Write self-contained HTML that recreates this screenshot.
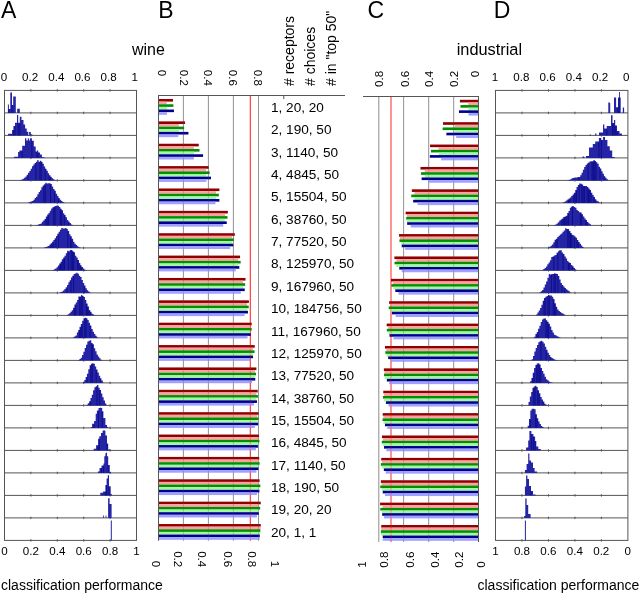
<!DOCTYPE html>
<html><head><meta charset="utf-8"><style>
html,body{margin:0;padding:0;background:#fff;}
svg{display:block;will-change:transform;}
text{font-family:"Liberation Sans",sans-serif;}
</style></head><body>
<svg width="639" height="593" viewBox="0 0 639 593">
<rect width="639" height="593" fill="#fff"/>
<text x="0.9" y="18" font-size="23" font-family="Liberation Sans, sans-serif">A</text>
<text x="158.3" y="18" font-size="23" font-family="Liberation Sans, sans-serif">B</text>
<text x="367.4" y="18" font-size="23" font-family="Liberation Sans, sans-serif">C</text>
<text x="493.8" y="18" font-size="23" font-family="Liberation Sans, sans-serif">D</text>
<text x="132" y="55" font-size="16" font-family="Liberation Sans, sans-serif">wine</text>
<text x="456.7" y="55.2" font-size="16.35" font-family="Liberation Sans, sans-serif">industrial</text>
<text x="1" y="589.8" font-size="14" font-family="Liberation Sans, sans-serif">classification performance</text>
<text x="477.5" y="589.8" font-size="14" font-family="Liberation Sans, sans-serif">classification performance</text>
<rect x="4.5" y="90.4" width="132.0" height="450.0" fill="none" stroke="#555555" stroke-width="1"/>
<line x1="4.5" y1="112.90" x2="136.5" y2="112.90" stroke="#555555" stroke-width="1"/>
<line x1="4.5" y1="135.40" x2="136.5" y2="135.40" stroke="#555555" stroke-width="1"/>
<line x1="4.5" y1="157.90" x2="136.5" y2="157.90" stroke="#555555" stroke-width="1"/>
<line x1="4.5" y1="180.40" x2="136.5" y2="180.40" stroke="#555555" stroke-width="1"/>
<line x1="4.5" y1="202.90" x2="136.5" y2="202.90" stroke="#555555" stroke-width="1"/>
<line x1="4.5" y1="225.40" x2="136.5" y2="225.40" stroke="#555555" stroke-width="1"/>
<line x1="4.5" y1="247.90" x2="136.5" y2="247.90" stroke="#555555" stroke-width="1"/>
<line x1="4.5" y1="270.40" x2="136.5" y2="270.40" stroke="#555555" stroke-width="1"/>
<line x1="4.5" y1="292.90" x2="136.5" y2="292.90" stroke="#555555" stroke-width="1"/>
<line x1="4.5" y1="315.40" x2="136.5" y2="315.40" stroke="#555555" stroke-width="1"/>
<line x1="4.5" y1="337.90" x2="136.5" y2="337.90" stroke="#555555" stroke-width="1"/>
<line x1="4.5" y1="360.40" x2="136.5" y2="360.40" stroke="#555555" stroke-width="1"/>
<line x1="4.5" y1="382.90" x2="136.5" y2="382.90" stroke="#555555" stroke-width="1"/>
<line x1="4.5" y1="405.40" x2="136.5" y2="405.40" stroke="#555555" stroke-width="1"/>
<line x1="4.5" y1="427.90" x2="136.5" y2="427.90" stroke="#555555" stroke-width="1"/>
<line x1="4.5" y1="450.40" x2="136.5" y2="450.40" stroke="#555555" stroke-width="1"/>
<line x1="4.5" y1="472.90" x2="136.5" y2="472.90" stroke="#555555" stroke-width="1"/>
<line x1="4.5" y1="495.40" x2="136.5" y2="495.40" stroke="#555555" stroke-width="1"/>
<line x1="4.5" y1="517.90" x2="136.5" y2="517.90" stroke="#555555" stroke-width="1"/>
<line x1="30.90" y1="89.20" x2="30.90" y2="91.60" stroke="#555555" stroke-width="1"/>
<line x1="57.30" y1="89.20" x2="57.30" y2="91.60" stroke="#555555" stroke-width="1"/>
<line x1="83.70" y1="89.20" x2="83.70" y2="91.60" stroke="#555555" stroke-width="1"/>
<line x1="110.10" y1="89.20" x2="110.10" y2="91.60" stroke="#555555" stroke-width="1"/>
<line x1="30.90" y1="111.70" x2="30.90" y2="114.10" stroke="#555555" stroke-width="1"/>
<line x1="57.30" y1="111.70" x2="57.30" y2="114.10" stroke="#555555" stroke-width="1"/>
<line x1="83.70" y1="111.70" x2="83.70" y2="114.10" stroke="#555555" stroke-width="1"/>
<line x1="110.10" y1="111.70" x2="110.10" y2="114.10" stroke="#555555" stroke-width="1"/>
<line x1="30.90" y1="134.20" x2="30.90" y2="136.60" stroke="#555555" stroke-width="1"/>
<line x1="57.30" y1="134.20" x2="57.30" y2="136.60" stroke="#555555" stroke-width="1"/>
<line x1="83.70" y1="134.20" x2="83.70" y2="136.60" stroke="#555555" stroke-width="1"/>
<line x1="110.10" y1="134.20" x2="110.10" y2="136.60" stroke="#555555" stroke-width="1"/>
<line x1="30.90" y1="156.70" x2="30.90" y2="159.10" stroke="#555555" stroke-width="1"/>
<line x1="57.30" y1="156.70" x2="57.30" y2="159.10" stroke="#555555" stroke-width="1"/>
<line x1="83.70" y1="156.70" x2="83.70" y2="159.10" stroke="#555555" stroke-width="1"/>
<line x1="110.10" y1="156.70" x2="110.10" y2="159.10" stroke="#555555" stroke-width="1"/>
<line x1="30.90" y1="179.20" x2="30.90" y2="181.60" stroke="#555555" stroke-width="1"/>
<line x1="57.30" y1="179.20" x2="57.30" y2="181.60" stroke="#555555" stroke-width="1"/>
<line x1="83.70" y1="179.20" x2="83.70" y2="181.60" stroke="#555555" stroke-width="1"/>
<line x1="110.10" y1="179.20" x2="110.10" y2="181.60" stroke="#555555" stroke-width="1"/>
<line x1="30.90" y1="201.70" x2="30.90" y2="204.10" stroke="#555555" stroke-width="1"/>
<line x1="57.30" y1="201.70" x2="57.30" y2="204.10" stroke="#555555" stroke-width="1"/>
<line x1="83.70" y1="201.70" x2="83.70" y2="204.10" stroke="#555555" stroke-width="1"/>
<line x1="110.10" y1="201.70" x2="110.10" y2="204.10" stroke="#555555" stroke-width="1"/>
<line x1="30.90" y1="224.20" x2="30.90" y2="226.60" stroke="#555555" stroke-width="1"/>
<line x1="57.30" y1="224.20" x2="57.30" y2="226.60" stroke="#555555" stroke-width="1"/>
<line x1="83.70" y1="224.20" x2="83.70" y2="226.60" stroke="#555555" stroke-width="1"/>
<line x1="110.10" y1="224.20" x2="110.10" y2="226.60" stroke="#555555" stroke-width="1"/>
<line x1="30.90" y1="246.70" x2="30.90" y2="249.10" stroke="#555555" stroke-width="1"/>
<line x1="57.30" y1="246.70" x2="57.30" y2="249.10" stroke="#555555" stroke-width="1"/>
<line x1="83.70" y1="246.70" x2="83.70" y2="249.10" stroke="#555555" stroke-width="1"/>
<line x1="110.10" y1="246.70" x2="110.10" y2="249.10" stroke="#555555" stroke-width="1"/>
<line x1="30.90" y1="269.20" x2="30.90" y2="271.60" stroke="#555555" stroke-width="1"/>
<line x1="57.30" y1="269.20" x2="57.30" y2="271.60" stroke="#555555" stroke-width="1"/>
<line x1="83.70" y1="269.20" x2="83.70" y2="271.60" stroke="#555555" stroke-width="1"/>
<line x1="110.10" y1="269.20" x2="110.10" y2="271.60" stroke="#555555" stroke-width="1"/>
<line x1="30.90" y1="291.70" x2="30.90" y2="294.10" stroke="#555555" stroke-width="1"/>
<line x1="57.30" y1="291.70" x2="57.30" y2="294.10" stroke="#555555" stroke-width="1"/>
<line x1="83.70" y1="291.70" x2="83.70" y2="294.10" stroke="#555555" stroke-width="1"/>
<line x1="110.10" y1="291.70" x2="110.10" y2="294.10" stroke="#555555" stroke-width="1"/>
<line x1="30.90" y1="314.20" x2="30.90" y2="316.60" stroke="#555555" stroke-width="1"/>
<line x1="57.30" y1="314.20" x2="57.30" y2="316.60" stroke="#555555" stroke-width="1"/>
<line x1="83.70" y1="314.20" x2="83.70" y2="316.60" stroke="#555555" stroke-width="1"/>
<line x1="110.10" y1="314.20" x2="110.10" y2="316.60" stroke="#555555" stroke-width="1"/>
<line x1="30.90" y1="336.70" x2="30.90" y2="339.10" stroke="#555555" stroke-width="1"/>
<line x1="57.30" y1="336.70" x2="57.30" y2="339.10" stroke="#555555" stroke-width="1"/>
<line x1="83.70" y1="336.70" x2="83.70" y2="339.10" stroke="#555555" stroke-width="1"/>
<line x1="110.10" y1="336.70" x2="110.10" y2="339.10" stroke="#555555" stroke-width="1"/>
<line x1="30.90" y1="359.20" x2="30.90" y2="361.60" stroke="#555555" stroke-width="1"/>
<line x1="57.30" y1="359.20" x2="57.30" y2="361.60" stroke="#555555" stroke-width="1"/>
<line x1="83.70" y1="359.20" x2="83.70" y2="361.60" stroke="#555555" stroke-width="1"/>
<line x1="110.10" y1="359.20" x2="110.10" y2="361.60" stroke="#555555" stroke-width="1"/>
<line x1="30.90" y1="381.70" x2="30.90" y2="384.10" stroke="#555555" stroke-width="1"/>
<line x1="57.30" y1="381.70" x2="57.30" y2="384.10" stroke="#555555" stroke-width="1"/>
<line x1="83.70" y1="381.70" x2="83.70" y2="384.10" stroke="#555555" stroke-width="1"/>
<line x1="110.10" y1="381.70" x2="110.10" y2="384.10" stroke="#555555" stroke-width="1"/>
<line x1="30.90" y1="404.20" x2="30.90" y2="406.60" stroke="#555555" stroke-width="1"/>
<line x1="57.30" y1="404.20" x2="57.30" y2="406.60" stroke="#555555" stroke-width="1"/>
<line x1="83.70" y1="404.20" x2="83.70" y2="406.60" stroke="#555555" stroke-width="1"/>
<line x1="110.10" y1="404.20" x2="110.10" y2="406.60" stroke="#555555" stroke-width="1"/>
<line x1="30.90" y1="426.70" x2="30.90" y2="429.10" stroke="#555555" stroke-width="1"/>
<line x1="57.30" y1="426.70" x2="57.30" y2="429.10" stroke="#555555" stroke-width="1"/>
<line x1="83.70" y1="426.70" x2="83.70" y2="429.10" stroke="#555555" stroke-width="1"/>
<line x1="110.10" y1="426.70" x2="110.10" y2="429.10" stroke="#555555" stroke-width="1"/>
<line x1="30.90" y1="449.20" x2="30.90" y2="451.60" stroke="#555555" stroke-width="1"/>
<line x1="57.30" y1="449.20" x2="57.30" y2="451.60" stroke="#555555" stroke-width="1"/>
<line x1="83.70" y1="449.20" x2="83.70" y2="451.60" stroke="#555555" stroke-width="1"/>
<line x1="110.10" y1="449.20" x2="110.10" y2="451.60" stroke="#555555" stroke-width="1"/>
<line x1="30.90" y1="471.70" x2="30.90" y2="474.10" stroke="#555555" stroke-width="1"/>
<line x1="57.30" y1="471.70" x2="57.30" y2="474.10" stroke="#555555" stroke-width="1"/>
<line x1="83.70" y1="471.70" x2="83.70" y2="474.10" stroke="#555555" stroke-width="1"/>
<line x1="110.10" y1="471.70" x2="110.10" y2="474.10" stroke="#555555" stroke-width="1"/>
<line x1="30.90" y1="494.20" x2="30.90" y2="496.60" stroke="#555555" stroke-width="1"/>
<line x1="57.30" y1="494.20" x2="57.30" y2="496.60" stroke="#555555" stroke-width="1"/>
<line x1="83.70" y1="494.20" x2="83.70" y2="496.60" stroke="#555555" stroke-width="1"/>
<line x1="110.10" y1="494.20" x2="110.10" y2="496.60" stroke="#555555" stroke-width="1"/>
<line x1="30.90" y1="516.70" x2="30.90" y2="519.10" stroke="#555555" stroke-width="1"/>
<line x1="57.30" y1="516.70" x2="57.30" y2="519.10" stroke="#555555" stroke-width="1"/>
<line x1="83.70" y1="516.70" x2="83.70" y2="519.10" stroke="#555555" stroke-width="1"/>
<line x1="110.10" y1="516.70" x2="110.10" y2="519.10" stroke="#555555" stroke-width="1"/>
<line x1="30.90" y1="539.20" x2="30.90" y2="541.60" stroke="#555555" stroke-width="1"/>
<line x1="57.30" y1="539.20" x2="57.30" y2="541.60" stroke="#555555" stroke-width="1"/>
<line x1="83.70" y1="539.20" x2="83.70" y2="541.60" stroke="#555555" stroke-width="1"/>
<line x1="110.10" y1="539.20" x2="110.10" y2="541.60" stroke="#555555" stroke-width="1"/>
<text x="4.00" y="80.8" font-size="11.6" text-anchor="middle" font-family="Liberation Sans, sans-serif">0</text>
<text x="4.50" y="554.7" font-size="11.6" text-anchor="middle" font-family="Liberation Sans, sans-serif">0</text>
<text x="30.16" y="80.8" font-size="11.6" text-anchor="middle" font-family="Liberation Sans, sans-serif">0.2</text>
<text x="30.90" y="554.7" font-size="11.6" text-anchor="middle" font-family="Liberation Sans, sans-serif">0.2</text>
<text x="56.32" y="80.8" font-size="11.6" text-anchor="middle" font-family="Liberation Sans, sans-serif">0.4</text>
<text x="57.30" y="554.7" font-size="11.6" text-anchor="middle" font-family="Liberation Sans, sans-serif">0.4</text>
<text x="82.48" y="80.8" font-size="11.6" text-anchor="middle" font-family="Liberation Sans, sans-serif">0.6</text>
<text x="83.70" y="554.7" font-size="11.6" text-anchor="middle" font-family="Liberation Sans, sans-serif">0.6</text>
<text x="108.64" y="80.8" font-size="11.6" text-anchor="middle" font-family="Liberation Sans, sans-serif">0.8</text>
<text x="110.10" y="554.7" font-size="11.6" text-anchor="middle" font-family="Liberation Sans, sans-serif">0.8</text>
<text x="134.80" y="80.8" font-size="11.6" text-anchor="middle" font-family="Liberation Sans, sans-serif">1</text>
<text x="136.50" y="554.7" font-size="11.6" text-anchor="middle" font-family="Liberation Sans, sans-serif">1</text>
<rect x="495.5" y="90.4" width="132.39999999999998" height="450.0" fill="none" stroke="#555555" stroke-width="1"/>
<line x1="495.5" y1="112.90" x2="627.9" y2="112.90" stroke="#555555" stroke-width="1"/>
<line x1="495.5" y1="135.40" x2="627.9" y2="135.40" stroke="#555555" stroke-width="1"/>
<line x1="495.5" y1="157.90" x2="627.9" y2="157.90" stroke="#555555" stroke-width="1"/>
<line x1="495.5" y1="180.40" x2="627.9" y2="180.40" stroke="#555555" stroke-width="1"/>
<line x1="495.5" y1="202.90" x2="627.9" y2="202.90" stroke="#555555" stroke-width="1"/>
<line x1="495.5" y1="225.40" x2="627.9" y2="225.40" stroke="#555555" stroke-width="1"/>
<line x1="495.5" y1="247.90" x2="627.9" y2="247.90" stroke="#555555" stroke-width="1"/>
<line x1="495.5" y1="270.40" x2="627.9" y2="270.40" stroke="#555555" stroke-width="1"/>
<line x1="495.5" y1="292.90" x2="627.9" y2="292.90" stroke="#555555" stroke-width="1"/>
<line x1="495.5" y1="315.40" x2="627.9" y2="315.40" stroke="#555555" stroke-width="1"/>
<line x1="495.5" y1="337.90" x2="627.9" y2="337.90" stroke="#555555" stroke-width="1"/>
<line x1="495.5" y1="360.40" x2="627.9" y2="360.40" stroke="#555555" stroke-width="1"/>
<line x1="495.5" y1="382.90" x2="627.9" y2="382.90" stroke="#555555" stroke-width="1"/>
<line x1="495.5" y1="405.40" x2="627.9" y2="405.40" stroke="#555555" stroke-width="1"/>
<line x1="495.5" y1="427.90" x2="627.9" y2="427.90" stroke="#555555" stroke-width="1"/>
<line x1="495.5" y1="450.40" x2="627.9" y2="450.40" stroke="#555555" stroke-width="1"/>
<line x1="495.5" y1="472.90" x2="627.9" y2="472.90" stroke="#555555" stroke-width="1"/>
<line x1="495.5" y1="495.40" x2="627.9" y2="495.40" stroke="#555555" stroke-width="1"/>
<line x1="495.5" y1="517.90" x2="627.9" y2="517.90" stroke="#555555" stroke-width="1"/>
<line x1="601.42" y1="89.20" x2="601.42" y2="91.60" stroke="#555555" stroke-width="1"/>
<line x1="574.94" y1="89.20" x2="574.94" y2="91.60" stroke="#555555" stroke-width="1"/>
<line x1="548.46" y1="89.20" x2="548.46" y2="91.60" stroke="#555555" stroke-width="1"/>
<line x1="521.98" y1="89.20" x2="521.98" y2="91.60" stroke="#555555" stroke-width="1"/>
<line x1="601.42" y1="111.70" x2="601.42" y2="114.10" stroke="#555555" stroke-width="1"/>
<line x1="574.94" y1="111.70" x2="574.94" y2="114.10" stroke="#555555" stroke-width="1"/>
<line x1="548.46" y1="111.70" x2="548.46" y2="114.10" stroke="#555555" stroke-width="1"/>
<line x1="521.98" y1="111.70" x2="521.98" y2="114.10" stroke="#555555" stroke-width="1"/>
<line x1="601.42" y1="134.20" x2="601.42" y2="136.60" stroke="#555555" stroke-width="1"/>
<line x1="574.94" y1="134.20" x2="574.94" y2="136.60" stroke="#555555" stroke-width="1"/>
<line x1="548.46" y1="134.20" x2="548.46" y2="136.60" stroke="#555555" stroke-width="1"/>
<line x1="521.98" y1="134.20" x2="521.98" y2="136.60" stroke="#555555" stroke-width="1"/>
<line x1="601.42" y1="156.70" x2="601.42" y2="159.10" stroke="#555555" stroke-width="1"/>
<line x1="574.94" y1="156.70" x2="574.94" y2="159.10" stroke="#555555" stroke-width="1"/>
<line x1="548.46" y1="156.70" x2="548.46" y2="159.10" stroke="#555555" stroke-width="1"/>
<line x1="521.98" y1="156.70" x2="521.98" y2="159.10" stroke="#555555" stroke-width="1"/>
<line x1="601.42" y1="179.20" x2="601.42" y2="181.60" stroke="#555555" stroke-width="1"/>
<line x1="574.94" y1="179.20" x2="574.94" y2="181.60" stroke="#555555" stroke-width="1"/>
<line x1="548.46" y1="179.20" x2="548.46" y2="181.60" stroke="#555555" stroke-width="1"/>
<line x1="521.98" y1="179.20" x2="521.98" y2="181.60" stroke="#555555" stroke-width="1"/>
<line x1="601.42" y1="201.70" x2="601.42" y2="204.10" stroke="#555555" stroke-width="1"/>
<line x1="574.94" y1="201.70" x2="574.94" y2="204.10" stroke="#555555" stroke-width="1"/>
<line x1="548.46" y1="201.70" x2="548.46" y2="204.10" stroke="#555555" stroke-width="1"/>
<line x1="521.98" y1="201.70" x2="521.98" y2="204.10" stroke="#555555" stroke-width="1"/>
<line x1="601.42" y1="224.20" x2="601.42" y2="226.60" stroke="#555555" stroke-width="1"/>
<line x1="574.94" y1="224.20" x2="574.94" y2="226.60" stroke="#555555" stroke-width="1"/>
<line x1="548.46" y1="224.20" x2="548.46" y2="226.60" stroke="#555555" stroke-width="1"/>
<line x1="521.98" y1="224.20" x2="521.98" y2="226.60" stroke="#555555" stroke-width="1"/>
<line x1="601.42" y1="246.70" x2="601.42" y2="249.10" stroke="#555555" stroke-width="1"/>
<line x1="574.94" y1="246.70" x2="574.94" y2="249.10" stroke="#555555" stroke-width="1"/>
<line x1="548.46" y1="246.70" x2="548.46" y2="249.10" stroke="#555555" stroke-width="1"/>
<line x1="521.98" y1="246.70" x2="521.98" y2="249.10" stroke="#555555" stroke-width="1"/>
<line x1="601.42" y1="269.20" x2="601.42" y2="271.60" stroke="#555555" stroke-width="1"/>
<line x1="574.94" y1="269.20" x2="574.94" y2="271.60" stroke="#555555" stroke-width="1"/>
<line x1="548.46" y1="269.20" x2="548.46" y2="271.60" stroke="#555555" stroke-width="1"/>
<line x1="521.98" y1="269.20" x2="521.98" y2="271.60" stroke="#555555" stroke-width="1"/>
<line x1="601.42" y1="291.70" x2="601.42" y2="294.10" stroke="#555555" stroke-width="1"/>
<line x1="574.94" y1="291.70" x2="574.94" y2="294.10" stroke="#555555" stroke-width="1"/>
<line x1="548.46" y1="291.70" x2="548.46" y2="294.10" stroke="#555555" stroke-width="1"/>
<line x1="521.98" y1="291.70" x2="521.98" y2="294.10" stroke="#555555" stroke-width="1"/>
<line x1="601.42" y1="314.20" x2="601.42" y2="316.60" stroke="#555555" stroke-width="1"/>
<line x1="574.94" y1="314.20" x2="574.94" y2="316.60" stroke="#555555" stroke-width="1"/>
<line x1="548.46" y1="314.20" x2="548.46" y2="316.60" stroke="#555555" stroke-width="1"/>
<line x1="521.98" y1="314.20" x2="521.98" y2="316.60" stroke="#555555" stroke-width="1"/>
<line x1="601.42" y1="336.70" x2="601.42" y2="339.10" stroke="#555555" stroke-width="1"/>
<line x1="574.94" y1="336.70" x2="574.94" y2="339.10" stroke="#555555" stroke-width="1"/>
<line x1="548.46" y1="336.70" x2="548.46" y2="339.10" stroke="#555555" stroke-width="1"/>
<line x1="521.98" y1="336.70" x2="521.98" y2="339.10" stroke="#555555" stroke-width="1"/>
<line x1="601.42" y1="359.20" x2="601.42" y2="361.60" stroke="#555555" stroke-width="1"/>
<line x1="574.94" y1="359.20" x2="574.94" y2="361.60" stroke="#555555" stroke-width="1"/>
<line x1="548.46" y1="359.20" x2="548.46" y2="361.60" stroke="#555555" stroke-width="1"/>
<line x1="521.98" y1="359.20" x2="521.98" y2="361.60" stroke="#555555" stroke-width="1"/>
<line x1="601.42" y1="381.70" x2="601.42" y2="384.10" stroke="#555555" stroke-width="1"/>
<line x1="574.94" y1="381.70" x2="574.94" y2="384.10" stroke="#555555" stroke-width="1"/>
<line x1="548.46" y1="381.70" x2="548.46" y2="384.10" stroke="#555555" stroke-width="1"/>
<line x1="521.98" y1="381.70" x2="521.98" y2="384.10" stroke="#555555" stroke-width="1"/>
<line x1="601.42" y1="404.20" x2="601.42" y2="406.60" stroke="#555555" stroke-width="1"/>
<line x1="574.94" y1="404.20" x2="574.94" y2="406.60" stroke="#555555" stroke-width="1"/>
<line x1="548.46" y1="404.20" x2="548.46" y2="406.60" stroke="#555555" stroke-width="1"/>
<line x1="521.98" y1="404.20" x2="521.98" y2="406.60" stroke="#555555" stroke-width="1"/>
<line x1="601.42" y1="426.70" x2="601.42" y2="429.10" stroke="#555555" stroke-width="1"/>
<line x1="574.94" y1="426.70" x2="574.94" y2="429.10" stroke="#555555" stroke-width="1"/>
<line x1="548.46" y1="426.70" x2="548.46" y2="429.10" stroke="#555555" stroke-width="1"/>
<line x1="521.98" y1="426.70" x2="521.98" y2="429.10" stroke="#555555" stroke-width="1"/>
<line x1="601.42" y1="449.20" x2="601.42" y2="451.60" stroke="#555555" stroke-width="1"/>
<line x1="574.94" y1="449.20" x2="574.94" y2="451.60" stroke="#555555" stroke-width="1"/>
<line x1="548.46" y1="449.20" x2="548.46" y2="451.60" stroke="#555555" stroke-width="1"/>
<line x1="521.98" y1="449.20" x2="521.98" y2="451.60" stroke="#555555" stroke-width="1"/>
<line x1="601.42" y1="471.70" x2="601.42" y2="474.10" stroke="#555555" stroke-width="1"/>
<line x1="574.94" y1="471.70" x2="574.94" y2="474.10" stroke="#555555" stroke-width="1"/>
<line x1="548.46" y1="471.70" x2="548.46" y2="474.10" stroke="#555555" stroke-width="1"/>
<line x1="521.98" y1="471.70" x2="521.98" y2="474.10" stroke="#555555" stroke-width="1"/>
<line x1="601.42" y1="494.20" x2="601.42" y2="496.60" stroke="#555555" stroke-width="1"/>
<line x1="574.94" y1="494.20" x2="574.94" y2="496.60" stroke="#555555" stroke-width="1"/>
<line x1="548.46" y1="494.20" x2="548.46" y2="496.60" stroke="#555555" stroke-width="1"/>
<line x1="521.98" y1="494.20" x2="521.98" y2="496.60" stroke="#555555" stroke-width="1"/>
<line x1="601.42" y1="516.70" x2="601.42" y2="519.10" stroke="#555555" stroke-width="1"/>
<line x1="574.94" y1="516.70" x2="574.94" y2="519.10" stroke="#555555" stroke-width="1"/>
<line x1="548.46" y1="516.70" x2="548.46" y2="519.10" stroke="#555555" stroke-width="1"/>
<line x1="521.98" y1="516.70" x2="521.98" y2="519.10" stroke="#555555" stroke-width="1"/>
<line x1="601.42" y1="539.20" x2="601.42" y2="541.60" stroke="#555555" stroke-width="1"/>
<line x1="574.94" y1="539.20" x2="574.94" y2="541.60" stroke="#555555" stroke-width="1"/>
<line x1="548.46" y1="539.20" x2="548.46" y2="541.60" stroke="#555555" stroke-width="1"/>
<line x1="521.98" y1="539.20" x2="521.98" y2="541.60" stroke="#555555" stroke-width="1"/>
<text x="626.30" y="80.8" font-size="11.6" text-anchor="middle" font-family="Liberation Sans, sans-serif">0</text>
<text x="627.70" y="554.7" font-size="11.6" text-anchor="middle" font-family="Liberation Sans, sans-serif">0</text>
<text x="600.06" y="80.8" font-size="11.6" text-anchor="middle" font-family="Liberation Sans, sans-serif">0.2</text>
<text x="601.26" y="554.7" font-size="11.6" text-anchor="middle" font-family="Liberation Sans, sans-serif">0.2</text>
<text x="573.82" y="80.8" font-size="11.6" text-anchor="middle" font-family="Liberation Sans, sans-serif">0.4</text>
<text x="574.82" y="554.7" font-size="11.6" text-anchor="middle" font-family="Liberation Sans, sans-serif">0.4</text>
<text x="547.58" y="80.8" font-size="11.6" text-anchor="middle" font-family="Liberation Sans, sans-serif">0.6</text>
<text x="548.38" y="554.7" font-size="11.6" text-anchor="middle" font-family="Liberation Sans, sans-serif">0.6</text>
<text x="521.34" y="80.8" font-size="11.6" text-anchor="middle" font-family="Liberation Sans, sans-serif">0.8</text>
<text x="521.94" y="554.7" font-size="11.6" text-anchor="middle" font-family="Liberation Sans, sans-serif">0.8</text>
<text x="495.10" y="80.8" font-size="11.6" text-anchor="middle" font-family="Liberation Sans, sans-serif">1</text>
<text x="495.50" y="554.7" font-size="11.6" text-anchor="middle" font-family="Liberation Sans, sans-serif">1</text>
<path d="M7.90 112.90V104.50H8.90V112.90ZM8.90 112.90V108.90H10.30V112.90ZM10.30 112.90V92.40H12.00V112.90ZM12.00 112.90V104.90H13.20V112.90ZM13.20 112.90V96.40H15.80V112.90ZM17.20 112.90V108.80H19.80V112.90Z" fill="#2424a4"/>
<path d="M8.90 112.90V109.40M12.00 112.90V105.40" stroke="#000080" stroke-width="0.8" fill="none" opacity="0.8"/>
<path d="M8.10 135.40V133.70H12.10V135.40ZM12.10 135.40V130.00H13.40V135.40ZM13.40 135.40V126.00H15.00V135.40ZM15.00 135.40V122.80H17.00V135.40ZM17.00 135.40V115.00H18.20V135.40ZM18.20 135.40V122.80H19.80V135.40ZM19.80 135.40V116.70H21.50V135.40ZM21.50 135.40V120.00H23.50V135.40ZM23.50 135.40V124.40H25.10V135.40ZM25.10 135.40V128.50H26.70V135.40ZM26.70 135.40V131.70H28.30V135.40ZM28.30 135.40V134.90H29.10V135.40ZM29.10 135.40V132.00H30.80V135.40ZM30.80 135.40V134.60H32.40V135.40Z" fill="#2424a4"/>
<path d="M13.40 135.40V130.50M15.00 135.40V126.50M18.20 135.40V123.30M19.80 135.40V123.30" stroke="#000080" stroke-width="0.8" fill="none" opacity="0.8"/>
<path d="M14.10 157.90V156.65H18.10V157.90ZM18.10 157.90V151.90H19.40V157.90ZM19.40 157.90V150.40H22.20V157.90ZM22.20 157.90V145.70H25.00V157.90ZM25.00 157.90V138.20H26.30V157.90ZM26.30 157.90V140.40H27.80V157.90ZM27.80 157.90V138.50H29.10V157.90ZM29.10 157.90V140.40H30.00V157.90ZM30.00 157.90V138.20H31.90V157.90ZM31.90 157.90V140.70H33.80V157.90ZM33.80 157.90V146.60H35.70V157.90ZM35.70 157.90V151.60H36.90V157.90ZM36.90 157.90V150.40H38.20V157.90ZM38.20 157.90V152.60H40.00V157.90ZM40.00 157.90V154.50H41.90V157.90ZM41.90 157.90V157.30H44.40V157.90Z" fill="#2424a4"/>
<path d="M22.20 157.90V150.90M31.90 157.90V141.20M36.90 157.90V152.10M38.20 157.90V153.10" stroke="#000080" stroke-width="0.8" fill="none" opacity="0.8"/>
<path d="M20.10 180.40V180.10H21.42V180.40ZM21.42 180.40V179.48H22.74V180.40ZM22.74 180.40V178.85H24.06V180.40ZM24.06 180.40V177.68H25.38V180.40ZM25.38 180.40V176.41H26.70V180.40ZM26.70 180.40V174.79H28.02V180.40ZM28.02 180.40V172.68H29.34V180.40ZM29.34 180.40V171.01H30.66V180.40ZM30.66 180.40V168.69H31.98V180.40ZM31.98 180.40V166.23H33.30V180.40ZM33.30 180.40V164.43H34.62V180.40ZM34.62 180.40V162.94H35.94V180.40ZM35.94 180.40V161.65H37.26V180.40ZM37.26 180.40V160.10H38.58V180.40ZM38.58 180.40V161.87H39.90V180.40ZM39.90 180.40V160.83H41.22V180.40ZM41.22 180.40V161.63H42.54V180.40ZM42.54 180.40V163.85H43.86V180.40ZM43.86 180.40V166.43H45.18V180.40ZM45.18 180.40V168.71H46.50V180.40ZM46.50 180.40V170.80H47.82V180.40ZM47.82 180.40V173.17H49.14V180.40ZM49.14 180.40V175.35H50.46V180.40ZM50.46 180.40V176.87H51.78V180.40ZM51.78 180.40V178.26H53.10V180.40ZM53.10 180.40V179.27H54.42V180.40ZM54.42 180.40V180.24H55.74V180.40Z" fill="#2424a4"/>
<path d="M28.02 180.40V175.29M35.94 180.40V163.44M39.90 180.40V162.37M41.22 180.40V162.13M45.18 180.40V169.21M49.14 180.40V175.85M50.46 180.40V177.37" stroke="#000080" stroke-width="0.8" fill="none" opacity="0.8"/>
<path d="M28.10 202.90V202.61H29.42V202.90ZM29.42 202.90V202.03H30.74V202.90ZM30.74 202.90V201.55H32.06V202.90ZM32.06 202.90V200.92H33.38V202.90ZM33.38 202.90V199.68H34.70V202.90ZM34.70 202.90V198.05H36.02V202.90ZM36.02 202.90V196.70H37.34V202.90ZM37.34 202.90V194.28H38.66V202.90ZM38.66 202.90V192.05H39.98V202.90ZM39.98 202.90V190.25H41.30V202.90ZM41.30 202.90V187.16H42.62V202.90ZM42.62 202.90V185.53H43.94V202.90ZM43.94 202.90V184.23H45.26V202.90ZM45.26 202.90V182.70H46.58V202.90ZM46.58 202.90V183.43H47.90V202.90ZM47.90 202.90V183.28H49.22V202.90ZM49.22 202.90V183.20H50.54V202.90ZM50.54 202.90V184.04H51.86V202.90ZM51.86 202.90V186.39H53.18V202.90ZM53.18 202.90V189.05H54.50V202.90ZM54.50 202.90V190.78H55.82V202.90ZM55.82 202.90V193.85H57.14V202.90ZM57.14 202.90V196.07H58.46V202.90ZM58.46 202.90V197.99H59.78V202.90ZM59.78 202.90V199.77H61.10V202.90ZM61.10 202.90V201.12H62.42V202.90ZM62.42 202.90V201.92H63.74V202.90ZM63.74 202.90V202.72H65.06V202.90Z" fill="#2424a4"/>
<path d="M43.94 202.90V186.03M45.26 202.90V184.73M50.54 202.90V184.54M54.50 202.90V191.28M58.46 202.90V198.49" stroke="#000080" stroke-width="0.8" fill="none" opacity="0.8"/>
<path d="M36.60 225.40V225.12H37.92V225.40ZM37.92 225.40V224.55H39.24V225.40ZM39.24 225.40V224.01H40.56V225.40ZM40.56 225.40V223.40H41.88V225.40ZM41.88 225.40V221.83H43.20V225.40ZM43.20 225.40V220.48H44.52V225.40ZM44.52 225.40V218.88H45.84V225.40ZM45.84 225.40V216.61H47.16V225.40ZM47.16 225.40V214.43H48.48V225.40ZM48.48 225.40V213.10H49.80V225.40ZM49.80 225.40V210.76H51.12V225.40ZM51.12 225.40V208.44H52.44V225.40ZM52.44 225.40V207.34H53.76V225.40ZM53.76 225.40V206.58H55.08V225.40ZM55.08 225.40V205.96H56.40V225.40ZM56.40 225.40V205.46H57.72V225.40ZM57.72 225.40V205.84H59.04V225.40ZM59.04 225.40V207.03H60.36V225.40ZM60.36 225.40V208.68H61.68V225.40ZM61.68 225.40V210.27H63.00V225.40ZM63.00 225.40V213.16H64.32V225.40ZM64.32 225.40V215.02H65.64V225.40ZM65.64 225.40V217.36H66.96V225.40ZM66.96 225.40V220.01H68.28V225.40ZM68.28 225.40V221.62H69.60V225.40ZM69.60 225.40V223.08H70.92V225.40ZM70.92 225.40V224.57H72.24V225.40ZM72.24 225.40V225.25H73.56V225.40Z" fill="#2424a4"/>
<path d="M45.84 225.40V219.38M47.16 225.40V217.11M48.48 225.40V214.93M53.76 225.40V207.84M55.08 225.40V207.08M60.36 225.40V209.18M61.68 225.40V210.77M64.32 225.40V215.52M68.28 225.40V222.12" stroke="#000080" stroke-width="0.8" fill="none" opacity="0.8"/>
<path d="M44.10 247.90V247.62H45.42V247.90ZM45.42 247.90V247.04H46.74V247.90ZM46.74 247.90V246.48H48.06V247.90ZM48.06 247.90V245.89H49.38V247.90ZM49.38 247.90V244.62H50.70V247.90ZM50.70 247.90V243.32H52.02V247.90ZM52.02 247.90V241.87H53.34V247.90ZM53.34 247.90V239.91H54.66V247.90ZM54.66 247.90V238.13H55.98V247.90ZM55.98 247.90V235.96H57.30V247.90ZM57.30 247.90V233.79H58.62V247.90ZM58.62 247.90V231.72H59.94V247.90ZM59.94 247.90V229.66H61.26V247.90ZM61.26 247.90V227.89H62.58V247.90ZM62.58 247.90V228.56H63.90V247.90ZM63.90 247.90V228.58H65.22V247.90ZM65.22 247.90V228.02H66.54V247.90ZM66.54 247.90V229.07H67.86V247.90ZM67.86 247.90V231.01H69.18V247.90ZM69.18 247.90V234.21H70.50V247.90ZM70.50 247.90V236.23H71.82V247.90ZM71.82 247.90V238.77H73.14V247.90ZM73.14 247.90V241.65H74.46V247.90ZM74.46 247.90V243.84H75.78V247.90ZM75.78 247.90V244.98H77.10V247.90ZM77.10 247.90V246.18H78.42V247.90ZM78.42 247.90V247.22H79.74V247.90ZM79.74 247.90V247.78H81.06V247.90Z" fill="#2424a4"/>
<path d="M50.70 247.90V245.12M52.02 247.90V243.82M53.34 247.90V242.37M55.98 247.90V238.63M58.62 247.90V234.29M67.86 247.90V231.51M70.50 247.90V236.73M71.82 247.90V239.27" stroke="#000080" stroke-width="0.8" fill="none" opacity="0.8"/>
<path d="M52.60 270.40V270.05H53.92V270.40ZM53.92 270.40V269.29H55.24V270.40ZM55.24 270.40V268.60H56.56V270.40ZM56.56 270.40V267.23H57.88V270.40ZM57.88 270.40V265.55H59.20V270.40ZM59.20 270.40V263.52H60.52V270.40ZM60.52 270.40V261.66H61.84V270.40ZM61.84 270.40V259.26H63.16V270.40ZM63.16 270.40V257.52H64.48V270.40ZM64.48 270.40V255.65H65.80V270.40ZM65.80 270.40V253.15H67.12V270.40ZM67.12 270.40V250.85H68.44V270.40ZM68.44 270.40V251.32H69.76V270.40ZM69.76 270.40V250.10H71.08V270.40ZM71.08 270.40V250.10H72.40V270.40ZM72.40 270.40V251.15H73.72V270.40ZM73.72 270.40V252.28H75.04V270.40ZM75.04 270.40V255.84H76.36V270.40ZM76.36 270.40V257.60H77.68V270.40ZM77.68 270.40V259.91H79.00V270.40ZM79.00 270.40V262.92H80.32V270.40ZM80.32 270.40V265.17H81.64V270.40ZM81.64 270.40V267.11H82.96V270.40ZM82.96 270.40V268.45H84.28V270.40ZM84.28 270.40V269.64H85.60V270.40ZM85.60 270.40V270.33H86.92V270.40Z" fill="#2424a4"/>
<path d="M59.20 270.40V266.05M60.52 270.40V264.02M61.84 270.40V262.16M63.16 270.40V259.76M64.48 270.40V258.02M68.44 270.40V251.82M71.08 270.40V250.60M72.40 270.40V251.65M73.72 270.40V252.78M77.68 270.40V260.41M79.00 270.40V263.42M80.32 270.40V265.67M81.64 270.40V267.61" stroke="#000080" stroke-width="0.8" fill="none" opacity="0.8"/>
<path d="M59.10 292.90V292.64H60.42V292.90ZM60.42 292.90V292.10H61.74V292.90ZM61.74 292.90V291.61H63.06V292.90ZM63.06 292.90V290.51H64.38V292.90ZM64.38 292.90V288.97H65.70V292.90ZM65.70 292.90V287.36H67.02V292.90ZM67.02 292.90V284.98H68.34V292.90ZM68.34 292.90V282.31H69.66V292.90ZM69.66 292.90V280.17H70.98V292.90ZM70.98 292.90V277.58H72.30V292.90ZM72.30 292.90V275.69H73.62V292.90ZM73.62 292.90V273.97H74.94V292.90ZM74.94 292.90V273.45H76.26V292.90ZM76.26 292.90V272.64H77.58V292.90ZM77.58 292.90V273.73H78.90V292.90ZM78.90 292.90V275.69H80.22V292.90ZM80.22 292.90V277.03H81.54V292.90ZM81.54 292.90V280.04H82.86V292.90ZM82.86 292.90V282.94H84.18V292.90ZM84.18 292.90V285.54H85.50V292.90ZM85.50 292.90V288.32H86.82V292.90ZM86.82 292.90V290.15H88.14V292.90ZM88.14 292.90V291.48H89.46V292.90ZM89.46 292.90V292.39H90.78V292.90Z" fill="#2424a4"/>
<path d="M67.02 292.90V287.86M70.98 292.90V280.67M73.62 292.90V276.19M84.18 292.90V286.04" stroke="#000080" stroke-width="0.8" fill="none" opacity="0.8"/>
<path d="M66.50 315.40V315.00H67.82V315.40ZM67.82 315.40V314.20H69.14V315.40ZM69.14 315.40V313.23H70.46V315.40ZM70.46 315.40V311.76H71.78V315.40ZM71.78 315.40V310.15H73.10V315.40ZM73.10 315.40V307.87H74.42V315.40ZM74.42 315.40V304.57H75.74V315.40ZM75.74 315.40V302.46H77.06V315.40ZM77.06 315.40V299.90H78.38V315.40ZM78.38 315.40V296.54H79.70V315.40ZM79.70 315.40V296.54H81.02V315.40ZM81.02 315.40V295.10H82.34V315.40ZM82.34 315.40V296.10H83.66V315.40ZM83.66 315.40V296.96H84.98V315.40ZM84.98 315.40V299.97H86.30V315.40ZM86.30 315.40V303.50H87.62V315.40ZM87.62 315.40V306.43H88.94V315.40ZM88.94 315.40V309.91H90.26V315.40ZM90.26 315.40V311.75H91.58V315.40ZM91.58 315.40V313.67H92.90V315.40ZM92.90 315.40V314.61H94.22V315.40Z" fill="#2424a4"/>
<path d="M74.42 315.40V308.37M75.74 315.40V305.07M79.70 315.40V297.04M81.02 315.40V297.04M82.34 315.40V296.60M86.30 315.40V304.00M87.62 315.40V306.93M88.94 315.40V310.41M90.26 315.40V312.25" stroke="#000080" stroke-width="0.8" fill="none" opacity="0.8"/>
<path d="M72.90 337.90V337.40H74.22V337.90ZM74.22 337.90V336.45H75.54V337.90ZM75.54 337.90V335.40H76.86V337.90ZM76.86 337.90V332.52H78.18V337.90ZM78.18 337.90V330.09H79.50V337.90ZM79.50 337.90V326.78H80.82V337.90ZM80.82 337.90V324.09H82.14V337.90ZM82.14 337.90V320.84H83.46V337.90ZM83.46 337.90V318.33H84.78V337.90ZM84.78 337.90V317.67H86.10V337.90ZM86.10 337.90V318.22H87.42V337.90ZM87.42 337.90V320.12H88.74V337.90ZM88.74 337.90V322.73H90.06V337.90ZM90.06 337.90V325.52H91.38V337.90ZM91.38 337.90V329.05H92.70V337.90ZM92.70 337.90V331.68H94.02V337.90ZM94.02 337.90V334.08H95.34V337.90ZM95.34 337.90V335.64H96.66V337.90ZM96.66 337.90V337.16H97.98V337.90Z" fill="#2424a4"/>
<path d="M79.50 337.90V330.59M80.82 337.90V327.28M82.14 337.90V324.59M84.78 337.90V318.83M86.10 337.90V318.72M90.06 337.90V326.02" stroke="#000080" stroke-width="0.8" fill="none" opacity="0.8"/>
<path d="M78.10 360.40V359.88H79.42V360.40ZM79.42 360.40V358.88H80.74V360.40ZM80.74 360.40V357.74H82.06V360.40ZM82.06 360.40V354.99H83.38V360.40ZM83.38 360.40V351.71H84.70V360.40ZM84.70 360.40V347.97H86.02V360.40ZM86.02 360.40V344.74H87.34V360.40ZM87.34 360.40V341.56H88.66V360.40ZM88.66 360.40V340.74H89.98V360.40ZM89.98 360.40V340.25H91.30V360.40ZM91.30 360.40V342.94H92.62V360.40ZM92.62 360.40V344.24H93.94V360.40ZM93.94 360.40V348.17H95.26V360.40ZM95.26 360.40V351.23H96.58V360.40ZM96.58 360.40V354.38H97.90V360.40ZM97.90 360.40V356.60H99.22V360.40ZM99.22 360.40V358.24H100.54V360.40ZM100.54 360.40V359.73H101.86V360.40Z" fill="#2424a4"/>
<path d="M91.30 360.40V343.44M92.62 360.40V344.74" stroke="#000080" stroke-width="0.8" fill="none" opacity="0.8"/>
<path d="M83.00 382.90V381.96H84.32V382.90ZM84.32 382.90V380.08H85.64V382.90ZM85.64 382.90V377.08H86.96V382.90ZM86.96 382.90V373.63H88.28V382.90ZM88.28 382.90V369.36H89.60V382.90ZM89.60 382.90V365.34H90.92V382.90ZM90.92 382.90V363.74H92.24V382.90ZM92.24 382.90V363.22H93.56V382.90ZM93.56 382.90V363.78H94.88V382.90ZM94.88 382.90V366.59H96.20V382.90ZM96.20 382.90V369.38H97.52V382.90ZM97.52 382.90V372.41H98.84V382.90ZM98.84 382.90V375.63H100.16V382.90ZM100.16 382.90V378.27H101.48V382.90ZM101.48 382.90V380.40H102.80V382.90ZM102.80 382.90V382.67H104.12V382.90Z" fill="#2424a4"/>
<path d="M86.96 382.90V377.58M90.92 382.90V365.84M92.24 382.90V364.24M96.20 382.90V369.88M100.16 382.90V378.77" stroke="#000080" stroke-width="0.8" fill="none" opacity="0.8"/>
<path d="M86.50 405.40V404.69H87.82V405.40ZM87.82 405.40V403.34H89.14V405.40ZM89.14 405.40V401.28H90.46V405.40ZM90.46 405.40V397.93H91.78V405.40ZM91.78 405.40V394.87H93.10V405.40ZM93.10 405.40V390.23H94.42V405.40ZM94.42 405.40V387.29H95.74V405.40ZM95.74 405.40V386.37H97.06V405.40ZM97.06 405.40V385.10H98.38V405.40ZM98.38 405.40V387.76H99.70V405.40ZM99.70 405.40V389.99H101.02V405.40ZM101.02 405.40V393.51H102.34V405.40ZM102.34 405.40V397.28H103.66V405.40ZM103.66 405.40V400.38H104.98V405.40ZM104.98 405.40V403.39H106.30V405.40Z" fill="#2424a4"/>
<path d="M90.46 405.40V401.78M97.06 405.40V386.87M99.70 405.40V390.49" stroke="#000080" stroke-width="0.8" fill="none" opacity="0.8"/>
<path d="M90.90 427.90V426.90H92.10V427.90ZM92.10 427.90V423.80H94.10V427.90ZM94.10 427.90V421.00H95.70V427.90ZM95.70 427.90V413.70H96.90V427.90ZM96.90 427.90V410.50H98.50V427.90ZM98.50 427.90V408.00H100.30V427.90ZM100.30 427.90V407.60H101.00V427.90ZM101.00 427.90V408.00H102.20V427.90ZM102.20 427.90V411.30H103.40V427.90ZM103.40 427.90V418.10H105.40V427.90ZM105.40 427.90V425.00H107.00V427.90ZM107.00 427.90V426.90H108.20V427.90Z" fill="#2424a4"/>
<path d="M94.10 427.90V424.30M98.50 427.90V411.00M102.20 427.90V411.80" stroke="#000080" stroke-width="0.8" fill="none" opacity="0.8"/>
<path d="M93.70 450.40V448.80H96.10V450.40ZM96.10 450.40V445.20H98.10V450.40ZM98.10 450.40V438.80H99.30V450.40ZM99.30 450.40V436.30H101.00V450.40ZM101.00 450.40V433.10H102.60V450.40ZM102.60 450.40V430.70H103.60V450.40ZM103.60 450.40V430.10H104.40V450.40ZM104.40 450.40V430.70H105.40V450.40ZM105.40 450.40V435.50H107.00V450.40ZM107.00 450.40V443.60H108.20V450.40ZM108.20 450.40V449.40H110.30V450.40Z" fill="#2424a4"/>
<path d="M98.10 450.40V445.70M99.30 450.40V439.30M107.00 450.40V444.10" stroke="#000080" stroke-width="0.8" fill="none" opacity="0.8"/>
<path d="M97.90 472.90V471.40H99.50V472.90ZM99.50 472.90V467.90H101.50V472.90ZM101.50 472.90V465.40H103.50V472.90ZM103.50 472.90V463.40H104.30V472.90ZM104.30 472.90V456.30H105.40V472.90ZM105.40 472.90V453.20H106.20V472.90ZM106.20 472.90V452.60H107.00V472.90ZM107.00 472.90V456.30H108.20V472.90ZM108.20 472.90V464.90H109.80V472.90ZM109.80 472.90V471.90H111.00V472.90Z" fill="#2424a4"/>
<path d="M101.50 472.90V468.40M103.50 472.90V465.90M108.20 472.90V465.40" stroke="#000080" stroke-width="0.8" fill="none" opacity="0.8"/>
<path d="M100.30 495.40V492.70H103.10V495.40ZM103.10 495.40V491.50H105.40V495.40ZM105.40 495.40V485.10H106.60V495.40ZM106.60 495.40V478.40H107.80V495.40ZM107.80 495.40V475.20H109.00V495.40ZM109.00 495.40V486.30H110.70V495.40ZM110.70 495.40V493.90H111.80V495.40Z" fill="#2424a4"/>
<path d="M105.40 495.40V492.00M106.60 495.40V485.60M109.00 495.40V486.80" stroke="#000080" stroke-width="0.8" fill="none" opacity="0.8"/>
<path d="M103.00 517.90V515.60H103.80V517.90ZM105.60 517.90V515.60H106.40V517.90ZM108.10 517.90V498.30H109.60V517.90ZM109.60 517.90V503.90H111.60V517.90Z" fill="#2424a4"/>
<path d="M110.80 540.40V520.40H111.80V540.40Z" fill="#2424a4"/>
<path d="M608.30 112.90V102.50H609.80V112.90ZM614.00 112.90V97.60H616.10V112.90ZM616.10 112.90V107.30H618.00V112.90ZM618.00 112.90V97.60H619.10V112.90ZM619.10 112.90V92.10H620.00V112.90ZM620.00 112.90V97.60H620.70V112.90ZM622.80 112.90V107.60H624.10V112.90Z" fill="#2424a4"/>
<path d="M609.80 112.90V103.00M618.00 112.90V107.80M619.10 112.90V98.10" stroke="#000080" stroke-width="0.8" fill="none" opacity="0.8"/>
<path d="M589.70 135.40V134.40H591.00V135.40ZM595.20 135.40V133.40H596.40V135.40ZM599.00 135.40V132.40H603.00V135.40ZM603.00 135.40V124.40H604.30V135.40ZM604.30 135.40V128.60H606.70V135.40ZM606.70 135.40V126.10H611.00V135.40ZM611.00 135.40V115.20H612.50V135.40ZM612.50 135.40V123.10H614.00V135.40ZM614.00 135.40V120.10H615.20V135.40ZM615.20 135.40V125.50H617.00V135.40ZM617.00 135.40V131.00H619.50V135.40ZM619.50 135.40V133.40H621.90V135.40Z" fill="#2424a4"/>
<path d="M606.70 135.40V129.10M612.50 135.40V123.60M614.00 135.40V123.60M615.20 135.40V126.00M617.00 135.40V131.50" stroke="#000080" stroke-width="0.8" fill="none" opacity="0.8"/>
<path d="M582.50 157.90V156.40H584.30V157.90ZM586.00 157.90V155.90H589.00V157.90ZM589.00 157.90V147.40H592.80V157.90ZM592.80 157.90V143.90H595.20V157.90ZM595.20 157.90V141.40H598.90V157.90ZM598.90 157.90V137.90H601.30V157.90ZM601.30 157.90V140.10H603.10V157.90ZM603.10 157.90V137.10H605.00V157.90ZM605.00 157.90V140.10H607.40V157.90ZM607.40 157.90V146.20H609.80V157.90ZM609.80 157.90V150.40H612.20V157.90ZM612.20 157.90V156.90H614.60V157.90Z" fill="#2424a4"/>
<path d="M598.90 157.90V141.90M601.30 157.90V140.60" stroke="#000080" stroke-width="0.8" fill="none" opacity="0.8"/>
<path d="M567.00 180.40V180.22H568.32V180.40ZM568.32 180.40V179.89H569.64V180.40ZM569.64 180.40V179.44H570.96V180.40ZM570.96 180.40V178.72H572.28V180.40ZM572.28 180.40V177.93H573.60V180.40ZM573.60 180.40V177.71H574.92V180.40ZM574.92 180.40V177.60H576.24V180.40ZM576.24 180.40V177.40H577.56V180.40ZM577.56 180.40V177.08H578.88V180.40ZM578.88 180.40V177.09H580.20V180.40ZM580.20 180.40V175.20H581.52V180.40ZM581.52 180.40V172.67H582.84V180.40ZM582.84 180.40V169.78H584.16V180.40ZM584.16 180.40V166.98H585.48V180.40ZM585.48 180.40V165.01H586.80V180.40ZM586.80 180.40V163.42H588.12V180.40ZM588.12 180.40V162.42H589.44V180.40ZM589.44 180.40V161.41H590.76V180.40ZM590.76 180.40V161.34H592.08V180.40ZM592.08 180.40V161.23H593.40V180.40ZM593.40 180.40V160.10H594.72V180.40ZM594.72 180.40V161.02H596.04V180.40ZM596.04 180.40V162.19H597.36V180.40ZM597.36 180.40V163.80H598.68V180.40ZM598.68 180.40V166.65H600.00V180.40ZM600.00 180.40V168.47H601.32V180.40ZM601.32 180.40V171.24H602.64V180.40ZM602.64 180.40V173.79H603.96V180.40ZM603.96 180.40V176.20H605.28V180.40ZM605.28 180.40V177.85H606.60V180.40ZM606.60 180.40V179.19H607.92V180.40ZM607.92 180.40V180.19H609.24V180.40Z" fill="#2424a4"/>
<path d="M578.88 180.40V177.59M588.12 180.40V163.92M592.08 180.40V161.84M593.40 180.40V161.73M594.72 180.40V161.52M596.04 180.40V162.69M600.00 180.40V168.97M603.96 180.40V176.70" stroke="#000080" stroke-width="0.8" fill="none" opacity="0.8"/>
<path d="M562.00 202.90V202.67H563.32V202.90ZM563.32 202.90V202.23H564.64V202.90ZM564.64 202.90V201.61H565.96V202.90ZM565.96 202.90V200.51H567.28V202.90ZM567.28 202.90V199.38H568.60V202.90ZM568.60 202.90V198.61H569.92V202.90ZM569.92 202.90V197.55H571.24V202.90ZM571.24 202.90V196.12H572.56V202.90ZM572.56 202.90V194.58H573.88V202.90ZM573.88 202.90V192.87H575.20V202.90ZM575.20 202.90V189.92H576.52V202.90ZM576.52 202.90V186.97H577.84V202.90ZM577.84 202.90V184.91H579.16V202.90ZM579.16 202.90V183.54H580.48V202.90ZM580.48 202.90V183.73H581.80V202.90ZM581.80 202.90V184.43H583.12V202.90ZM583.12 202.90V186.09H584.44V202.90ZM584.44 202.90V186.09H585.76V202.90ZM585.76 202.90V186.04H587.08V202.90ZM587.08 202.90V187.09H588.40V202.90ZM588.40 202.90V188.55H589.72V202.90ZM589.72 202.90V189.94H591.04V202.90ZM591.04 202.90V192.68H592.36V202.90ZM592.36 202.90V194.96H593.68V202.90ZM593.68 202.90V197.01H595.00V202.90ZM595.00 202.90V199.36H596.32V202.90ZM596.32 202.90V200.68H597.64V202.90ZM597.64 202.90V201.54H598.96V202.90ZM598.96 202.90V202.59H600.28V202.90Z" fill="#2424a4"/>
<path d="M568.60 202.90V199.88M569.92 202.90V199.11M573.88 202.90V195.08M575.20 202.90V193.37M576.52 202.90V190.42M579.16 202.90V185.41M581.80 202.90V184.93M583.12 202.90V186.59M584.44 202.90V186.59M587.08 202.90V187.59M588.40 202.90V189.05M589.72 202.90V190.44M591.04 202.90V193.18M593.68 202.90V197.51M595.00 202.90V199.86" stroke="#000080" stroke-width="0.8" fill="none" opacity="0.8"/>
<path d="M554.00 225.40V225.07H555.32V225.40ZM555.32 225.40V224.42H556.64V225.40ZM556.64 225.40V223.52H557.96V225.40ZM557.96 225.40V222.13H559.28V225.40ZM559.28 225.40V220.51H560.60V225.40ZM560.60 225.40V219.40H561.92V225.40ZM561.92 225.40V218.52H563.24V225.40ZM563.24 225.40V216.95H564.56V225.40ZM564.56 225.40V216.52H565.88V225.40ZM565.88 225.40V215.65H567.20V225.40ZM567.20 225.40V212.98H568.52V225.40ZM568.52 225.40V210.94H569.84V225.40ZM569.84 225.40V207.73H571.16V225.40ZM571.16 225.40V206.54H572.48V225.40ZM572.48 225.40V205.96H573.80V225.40ZM573.80 225.40V207.05H575.12V225.40ZM575.12 225.40V207.79H576.44V225.40ZM576.44 225.40V209.97H577.76V225.40ZM577.76 225.40V210.90H579.08V225.40ZM579.08 225.40V212.31H580.40V225.40ZM580.40 225.40V212.50H581.72V225.40ZM581.72 225.40V214.21H583.04V225.40ZM583.04 225.40V216.42H584.36V225.40ZM584.36 225.40V218.56H585.68V225.40ZM585.68 225.40V220.06H587.00V225.40ZM587.00 225.40V221.91H588.32V225.40ZM588.32 225.40V223.24H589.64V225.40ZM589.64 225.40V224.35H590.96V225.40ZM590.96 225.40V225.21H592.28V225.40Z" fill="#2424a4"/>
<path d="M561.92 225.40V219.90M563.24 225.40V219.02M564.56 225.40V217.45M565.88 225.40V217.02M567.20 225.40V216.15M568.52 225.40V213.48M572.48 225.40V207.04M580.40 225.40V213.00M581.72 225.40V214.71M585.68 225.40V220.56M587.00 225.40V222.41" stroke="#000080" stroke-width="0.8" fill="none" opacity="0.8"/>
<path d="M548.00 247.90V247.48H549.32V247.90ZM549.32 247.90V246.70H550.64V247.90ZM550.64 247.90V245.86H551.96V247.90ZM551.96 247.90V244.44H553.28V247.90ZM553.28 247.90V242.17H554.60V247.90ZM554.60 247.90V239.84H555.92V247.90ZM555.92 247.90V238.64H557.24V247.90ZM557.24 247.90V237.03H558.56V247.90ZM558.56 247.90V235.86H559.88V247.90ZM559.88 247.90V234.51H561.20V247.90ZM561.20 247.90V233.48H562.52V247.90ZM562.52 247.90V231.69H563.84V247.90ZM563.84 247.90V230.49H565.16V247.90ZM565.16 247.90V228.32H566.48V247.90ZM566.48 247.90V229.00H567.80V247.90ZM567.80 247.90V228.96H569.12V247.90ZM569.12 247.90V231.07H570.44V247.90ZM570.44 247.90V233.02H571.76V247.90ZM571.76 247.90V234.63H573.08V247.90ZM573.08 247.90V235.20H574.40V247.90ZM574.40 247.90V236.48H575.72V247.90ZM575.72 247.90V237.80H577.04V247.90ZM577.04 247.90V240.02H578.36V247.90ZM578.36 247.90V241.93H579.68V247.90ZM579.68 247.90V243.80H581.00V247.90ZM581.00 247.90V245.41H582.32V247.90ZM582.32 247.90V246.92H583.64V247.90Z" fill="#2424a4"/>
<path d="M555.92 247.90V240.34M557.24 247.90V239.14M567.80 247.90V229.50M569.12 247.90V231.57M570.44 247.90V233.52M571.76 247.90V235.13M574.40 247.90V236.98M577.04 247.90V240.52M578.36 247.90V242.43" stroke="#000080" stroke-width="0.8" fill="none" opacity="0.8"/>
<path d="M542.00 270.40V269.92H543.32V270.40ZM543.32 270.40V268.97H544.64V270.40ZM544.64 270.40V267.99H545.96V270.40ZM545.96 270.40V266.38H547.28V270.40ZM547.28 270.40V264.31H548.60V270.40ZM548.60 270.40V262.59H549.92V270.40ZM549.92 270.40V260.15H551.24V270.40ZM551.24 270.40V257.02H552.56V270.40ZM552.56 270.40V256.41H553.88V270.40ZM553.88 270.40V255.45H555.20V270.40ZM555.20 270.40V255.06H556.52V270.40ZM556.52 270.40V252.86H557.84V270.40ZM557.84 270.40V251.24H559.16V270.40ZM559.16 270.40V250.26H560.48V270.40ZM560.48 270.40V250.22H561.80V270.40ZM561.80 270.40V252.41H563.12V270.40ZM563.12 270.40V254.05H564.44V270.40ZM564.44 270.40V256.58H565.76V270.40ZM565.76 270.40V258.44H567.08V270.40ZM567.08 270.40V260.94H568.40V270.40ZM568.40 270.40V262.28H569.72V270.40ZM569.72 270.40V263.08H571.04V270.40ZM571.04 270.40V265.02H572.36V270.40ZM572.36 270.40V266.30H573.68V270.40ZM573.68 270.40V268.04H575.00V270.40ZM575.00 270.40V269.51H576.32V270.40Z" fill="#2424a4"/>
<path d="M553.88 270.40V256.91M557.84 270.40V253.36M563.12 270.40V254.55M568.40 270.40V262.78M569.72 270.40V263.58M572.36 270.40V266.80" stroke="#000080" stroke-width="0.8" fill="none" opacity="0.8"/>
<path d="M539.50 292.90V292.33H540.82V292.90ZM540.82 292.90V291.17H542.14V292.90ZM542.14 292.90V290.09H543.46V292.90ZM543.46 292.90V287.41H544.78V292.90ZM544.78 292.90V284.54H546.10V292.90ZM546.10 292.90V281.51H547.42V292.90ZM547.42 292.90V277.69H548.74V292.90ZM548.74 292.90V274.05H550.06V292.90ZM550.06 292.90V274.57H551.38V292.90ZM551.38 292.90V273.99H552.70V292.90ZM552.70 292.90V274.04H554.02V292.90ZM554.02 292.90V273.36H555.34V292.90ZM555.34 292.90V273.68H556.66V292.90ZM556.66 292.90V273.97H557.98V292.90ZM557.98 292.90V275.99H559.30V292.90ZM559.30 292.90V279.60H560.62V292.90ZM560.62 292.90V282.90H561.94V292.90ZM561.94 292.90V284.96H563.26V292.90ZM563.26 292.90V286.58H564.58V292.90ZM564.58 292.90V287.97H565.90V292.90ZM565.90 292.90V289.16H567.22V292.90ZM567.22 292.90V290.20H568.54V292.90ZM568.54 292.90V291.35H569.86V292.90ZM569.86 292.90V292.49H571.18V292.90Z" fill="#2424a4"/>
<path d="M551.38 292.90V275.07M554.02 292.90V274.54M555.34 292.90V274.18M557.98 292.90V276.49M561.94 292.90V285.46M564.58 292.90V288.47" stroke="#000080" stroke-width="0.8" fill="none" opacity="0.8"/>
<path d="M536.10 315.40V314.50H537.42V315.40ZM537.42 315.40V312.62H538.74V315.40ZM538.74 315.40V310.47H540.06V315.40ZM540.06 315.40V307.95H541.38V315.40ZM541.38 315.40V304.83H542.70V315.40ZM542.70 315.40V300.76H544.02V315.40ZM544.02 315.40V297.96H545.34V315.40ZM545.34 315.40V296.74H546.66V315.40ZM546.66 315.40V295.96H547.98V315.40ZM547.98 315.40V295.10H549.30V315.40ZM549.30 315.40V295.45H550.62V315.40ZM550.62 315.40V295.47H551.94V315.40ZM551.94 315.40V296.76H553.26V315.40ZM553.26 315.40V298.98H554.58V315.40ZM554.58 315.40V303.35H555.90V315.40ZM555.90 315.40V306.81H557.22V315.40ZM557.22 315.40V309.41H558.54V315.40ZM558.54 315.40V311.04H559.86V315.40ZM559.86 315.40V312.05H561.18V315.40ZM561.18 315.40V313.04H562.50V315.40ZM562.50 315.40V313.86H563.82V315.40ZM563.82 315.40V314.62H565.14V315.40Z" fill="#2424a4"/>
<path d="M544.02 315.40V301.26M545.34 315.40V298.46M547.98 315.40V296.46M549.30 315.40V295.95M553.26 315.40V299.48M554.58 315.40V303.85M555.90 315.40V307.31" stroke="#000080" stroke-width="0.8" fill="none" opacity="0.8"/>
<path d="M534.10 337.90V336.63H535.42V337.90ZM535.42 337.90V334.05H536.74V337.90ZM536.74 337.90V331.89H538.06V337.90ZM538.06 337.90V328.71H539.38V337.90ZM539.38 337.90V325.78H540.70V337.90ZM540.70 337.90V322.09H542.02V337.90ZM542.02 337.90V319.59H543.34V337.90ZM543.34 337.90V318.55H544.66V337.90ZM544.66 337.90V318.45H545.98V337.90ZM545.98 337.90V320.20H547.30V337.90ZM547.30 337.90V321.68H548.62V337.90ZM548.62 337.90V323.84H549.94V337.90ZM549.94 337.90V326.38H551.26V337.90ZM551.26 337.90V329.99H552.58V337.90ZM552.58 337.90V332.52H553.90V337.90ZM553.90 337.90V334.68H555.22V337.90ZM555.22 337.90V335.37H556.54V337.90ZM556.54 337.90V336.14H557.86V337.90ZM557.86 337.90V336.82H559.18V337.90ZM559.18 337.90V337.44H560.50V337.90Z" fill="#2424a4"/>
<path d="M536.74 337.90V334.55M538.06 337.90V332.39M545.98 337.90V320.70M547.30 337.90V322.18M548.62 337.90V324.34" stroke="#000080" stroke-width="0.8" fill="none" opacity="0.8"/>
<path d="M531.70 360.40V359.15H533.02V360.40ZM533.02 360.40V355.99H534.34V360.40ZM534.34 360.40V351.52H535.66V360.40ZM535.66 360.40V348.00H536.98V360.40ZM536.98 360.40V345.03H538.30V360.40ZM538.30 360.40V342.25H539.62V360.40ZM539.62 360.40V341.34H540.94V360.40ZM540.94 360.40V340.87H542.26V360.40ZM542.26 360.40V341.84H543.58V360.40ZM543.58 360.40V343.47H544.90V360.40ZM544.90 360.40V346.81H546.22V360.40ZM546.22 360.40V349.81H547.54V360.40ZM547.54 360.40V352.84H548.86V360.40ZM548.86 360.40V355.11H550.18V360.40ZM550.18 360.40V356.94H551.50V360.40ZM551.50 360.40V358.05H552.82V360.40ZM552.82 360.40V358.79H554.14V360.40ZM554.14 360.40V359.59H555.46V360.40ZM555.46 360.40V360.12H556.78V360.40Z" fill="#2424a4"/>
<path d="M540.94 360.40V341.84M546.22 360.40V350.31M550.18 360.40V357.44" stroke="#000080" stroke-width="0.8" fill="none" opacity="0.8"/>
<path d="M530.10 382.90V381.23H531.42V382.90ZM531.42 382.90V378.00H532.74V382.90ZM532.74 382.90V372.69H534.06V382.90ZM534.06 382.90V368.08H535.38V382.90ZM535.38 382.90V365.00H536.70V382.90ZM536.70 382.90V363.50H538.02V382.90ZM538.02 382.90V363.24H539.34V382.90ZM539.34 382.90V364.51H540.66V382.90ZM540.66 382.90V368.06H541.98V382.90ZM541.98 382.90V370.95H543.30V382.90ZM543.30 382.90V373.65H544.62V382.90ZM544.62 382.90V376.81H545.94V382.90ZM545.94 382.90V379.25H547.26V382.90ZM547.26 382.90V380.33H548.58V382.90ZM548.58 382.90V381.61H549.90V382.90ZM549.90 382.90V382.23H551.22V382.90ZM551.22 382.90V382.62H552.54V382.90Z" fill="#2424a4"/>
<path d="M532.74 382.90V378.50M534.06 382.90V373.19M536.70 382.90V365.50M538.02 382.90V364.00M539.34 382.90V365.01M540.66 382.90V368.56" stroke="#000080" stroke-width="0.8" fill="none" opacity="0.8"/>
<path d="M528.50 405.40V402.02H529.82V405.40ZM529.82 405.40V396.50H531.14V405.40ZM531.14 405.40V391.97H532.46V405.40ZM532.46 405.40V387.70H533.78V405.40ZM533.78 405.40V386.48H535.10V405.40ZM535.10 405.40V385.65H536.42V405.40ZM536.42 405.40V387.02H537.74V405.40ZM537.74 405.40V390.21H539.06V405.40ZM539.06 405.40V393.34H540.38V405.40ZM540.38 405.40V396.89H541.70V405.40ZM541.70 405.40V399.62H543.02V405.40ZM543.02 405.40V401.56H544.34V405.40ZM544.34 405.40V403.70H545.66V405.40ZM545.66 405.40V404.73H546.98V405.40Z" fill="#2424a4"/>
<path d="M533.78 405.40V388.20M535.10 405.40V386.98M537.74 405.40V390.71M539.06 405.40V393.84M543.02 405.40V402.06" stroke="#000080" stroke-width="0.8" fill="none" opacity="0.8"/>
<path d="M527.70 427.90V425.76H529.02V427.90ZM529.02 427.90V418.98H530.34V427.90ZM530.34 427.90V410.56H531.66V427.90ZM531.66 427.90V408.71H532.98V427.90ZM532.98 427.90V408.77H534.30V427.90ZM534.30 427.90V409.16H535.62V427.90ZM535.62 427.90V414.30H536.94V427.90ZM536.94 427.90V418.26H538.26V427.90ZM538.26 427.90V421.61H539.58V427.90ZM539.58 427.90V423.92H540.90V427.90ZM540.90 427.90V425.97H542.22V427.90ZM542.22 427.90V427.02H543.54V427.90Z" fill="#2424a4"/>
<path d="M530.34 427.90V419.48M535.62 427.90V414.80M536.94 427.90V418.76" stroke="#000080" stroke-width="0.8" fill="none" opacity="0.8"/>
<path d="M526.10 450.40V447.40H528.20V450.40ZM528.20 450.40V440.40H529.40V450.40ZM529.40 450.40V430.90H531.40V450.40ZM531.40 450.40V433.90H533.40V450.40ZM533.40 450.40V436.40H535.10V450.40ZM535.10 450.40V440.90H536.30V450.40ZM536.30 450.40V446.40H538.30V450.40ZM538.30 450.40V448.90H540.70V450.40Z" fill="#2424a4"/>
<path d="M531.40 450.40V434.40M533.40 450.40V436.90M535.10 450.40V441.40" stroke="#000080" stroke-width="0.8" fill="none" opacity="0.8"/>
<path d="M524.90 472.90V469.90H526.60V472.90ZM526.60 472.90V463.90H528.20V472.90ZM528.20 472.90V453.40H529.40V472.90ZM529.40 472.90V460.40H531.00V472.90ZM531.00 472.90V462.40H533.00V472.90ZM533.00 472.90V467.90H534.60V472.90ZM534.60 472.90V471.40H537.10V472.90Z" fill="#2424a4"/>
<path d="M524.90 495.40V486.40H526.10V495.40ZM526.10 495.40V475.40H527.40V495.40ZM527.40 495.40V478.90H529.00V495.40ZM529.00 495.40V485.90H531.00V495.40ZM531.00 495.40V490.90H533.00V495.40ZM533.00 495.40V494.40H535.50V495.40Z" fill="#2424a4"/>
<path d="M531.00 495.40V491.40" stroke="#000080" stroke-width="0.8" fill="none" opacity="0.8"/>
<path d="M524.10 517.90V515.90H525.30V517.90ZM525.30 517.90V498.40H526.60V517.90ZM526.60 517.90V504.90H528.20V517.90ZM528.20 517.90V513.90H530.60V517.90Z" fill="#2424a4"/>
<path d="M524.90 540.40V520.40H525.90V540.40Z" fill="#2424a4"/>
<line x1="183.4" y1="95.5" x2="183.4" y2="540.7" stroke="#a8a8a8" stroke-width="1"/>
<line x1="208.4" y1="95.5" x2="208.4" y2="540.7" stroke="#a8a8a8" stroke-width="1"/>
<line x1="233.4" y1="95.5" x2="233.4" y2="540.7" stroke="#a8a8a8" stroke-width="1"/>
<line x1="258.5" y1="95.5" x2="258.5" y2="540.7" stroke="#a8a8a8" stroke-width="1"/>
<line x1="250.3" y1="95.5" x2="250.3" y2="540.7" stroke="#ff3030" stroke-width="1"/>
<rect x="158.5" y="99.00" width="14.53" height="2.63" fill="#900000"/>
<rect x="158.5" y="101.63" width="8.33" height="2.63" fill="#ffa0a0"/>
<rect x="158.5" y="104.26" width="14.90" height="2.63" fill="#009000"/>
<rect x="158.5" y="106.89" width="8.71" height="2.63" fill="#a0f8a0"/>
<rect x="158.5" y="109.52" width="15.47" height="2.63" fill="#000090"/>
<rect x="158.5" y="112.15" width="8.52" height="2.63" fill="#a0a0ff"/>
<rect x="158.5" y="121.37" width="26.55" height="2.63" fill="#900000"/>
<rect x="158.5" y="124.00" width="20.35" height="2.63" fill="#ffa0a0"/>
<rect x="158.5" y="126.63" width="25.61" height="2.63" fill="#009000"/>
<rect x="158.5" y="129.26" width="20.35" height="2.63" fill="#a0f8a0"/>
<rect x="158.5" y="131.89" width="29.93" height="2.63" fill="#000090"/>
<rect x="158.5" y="134.52" width="19.79" height="2.63" fill="#a0a0ff"/>
<rect x="158.5" y="143.74" width="40.26" height="2.63" fill="#900000"/>
<rect x="158.5" y="146.37" width="35.37" height="2.63" fill="#ffa0a0"/>
<rect x="158.5" y="149.00" width="41.01" height="2.63" fill="#009000"/>
<rect x="158.5" y="151.63" width="35.37" height="2.63" fill="#a0f8a0"/>
<rect x="158.5" y="154.26" width="44.58" height="2.63" fill="#000090"/>
<rect x="158.5" y="156.89" width="35.37" height="2.63" fill="#a0a0ff"/>
<rect x="158.5" y="166.11" width="50.21" height="2.63" fill="#900000"/>
<rect x="158.5" y="168.74" width="47.58" height="2.63" fill="#ffa0a0"/>
<rect x="158.5" y="171.37" width="51.15" height="2.63" fill="#009000"/>
<rect x="158.5" y="174.00" width="47.58" height="2.63" fill="#a0f8a0"/>
<rect x="158.5" y="176.63" width="52.46" height="2.63" fill="#000090"/>
<rect x="158.5" y="179.26" width="47.96" height="2.63" fill="#a0a0ff"/>
<rect x="158.5" y="188.48" width="60.91" height="2.63" fill="#900000"/>
<rect x="158.5" y="191.11" width="57.53" height="2.63" fill="#ffa0a0"/>
<rect x="158.5" y="193.74" width="60.35" height="2.63" fill="#009000"/>
<rect x="158.5" y="196.37" width="57.53" height="2.63" fill="#a0f8a0"/>
<rect x="158.5" y="199.00" width="60.91" height="2.63" fill="#000090"/>
<rect x="158.5" y="201.63" width="56.97" height="2.63" fill="#a0a0ff"/>
<rect x="158.5" y="210.85" width="69.36" height="2.63" fill="#900000"/>
<rect x="158.5" y="213.48" width="66.55" height="2.63" fill="#ffa0a0"/>
<rect x="158.5" y="216.11" width="68.99" height="2.63" fill="#009000"/>
<rect x="158.5" y="218.74" width="66.36" height="2.63" fill="#a0f8a0"/>
<rect x="158.5" y="221.37" width="68.24" height="2.63" fill="#000090"/>
<rect x="158.5" y="224.00" width="64.67" height="2.63" fill="#a0a0ff"/>
<rect x="158.5" y="233.22" width="76.31" height="2.63" fill="#900000"/>
<rect x="158.5" y="235.85" width="73.50" height="2.63" fill="#ffa0a0"/>
<rect x="158.5" y="238.48" width="75.37" height="2.63" fill="#009000"/>
<rect x="158.5" y="241.11" width="73.50" height="2.63" fill="#a0f8a0"/>
<rect x="158.5" y="243.74" width="74.81" height="2.63" fill="#000090"/>
<rect x="158.5" y="246.37" width="71.62" height="2.63" fill="#a0a0ff"/>
<rect x="158.5" y="255.59" width="81.57" height="2.63" fill="#900000"/>
<rect x="158.5" y="258.22" width="79.69" height="2.63" fill="#ffa0a0"/>
<rect x="158.5" y="260.85" width="82.13" height="2.63" fill="#009000"/>
<rect x="158.5" y="263.48" width="79.50" height="2.63" fill="#a0f8a0"/>
<rect x="158.5" y="266.11" width="80.82" height="2.63" fill="#000090"/>
<rect x="158.5" y="268.74" width="77.25" height="2.63" fill="#a0a0ff"/>
<rect x="158.5" y="277.96" width="87.02" height="2.63" fill="#900000"/>
<rect x="158.5" y="280.59" width="84.39" height="2.63" fill="#ffa0a0"/>
<rect x="158.5" y="283.22" width="86.64" height="2.63" fill="#009000"/>
<rect x="158.5" y="285.85" width="84.76" height="2.63" fill="#a0f8a0"/>
<rect x="158.5" y="288.48" width="86.27" height="2.63" fill="#000090"/>
<rect x="158.5" y="291.11" width="82.32" height="2.63" fill="#a0a0ff"/>
<rect x="158.5" y="300.33" width="90.40" height="2.63" fill="#900000"/>
<rect x="158.5" y="302.96" width="88.52" height="2.63" fill="#ffa0a0"/>
<rect x="158.5" y="305.59" width="90.21" height="2.63" fill="#009000"/>
<rect x="158.5" y="308.22" width="88.89" height="2.63" fill="#a0f8a0"/>
<rect x="158.5" y="310.85" width="89.46" height="2.63" fill="#000090"/>
<rect x="158.5" y="313.48" width="86.08" height="2.63" fill="#a0a0ff"/>
<rect x="158.5" y="322.70" width="93.21" height="2.63" fill="#900000"/>
<rect x="158.5" y="325.33" width="91.90" height="2.63" fill="#ffa0a0"/>
<rect x="158.5" y="327.96" width="93.21" height="2.63" fill="#009000"/>
<rect x="158.5" y="330.59" width="91.71" height="2.63" fill="#a0f8a0"/>
<rect x="158.5" y="333.22" width="92.46" height="2.63" fill="#000090"/>
<rect x="158.5" y="335.85" width="89.08" height="2.63" fill="#a0a0ff"/>
<rect x="158.5" y="345.07" width="96.22" height="2.63" fill="#900000"/>
<rect x="158.5" y="347.70" width="94.53" height="2.63" fill="#ffa0a0"/>
<rect x="158.5" y="350.33" width="96.03" height="2.63" fill="#009000"/>
<rect x="158.5" y="352.96" width="94.34" height="2.63" fill="#a0f8a0"/>
<rect x="158.5" y="355.59" width="94.53" height="2.63" fill="#000090"/>
<rect x="158.5" y="358.22" width="91.71" height="2.63" fill="#a0a0ff"/>
<rect x="158.5" y="367.44" width="97.91" height="2.63" fill="#900000"/>
<rect x="158.5" y="370.07" width="96.41" height="2.63" fill="#ffa0a0"/>
<rect x="158.5" y="372.70" width="97.53" height="2.63" fill="#009000"/>
<rect x="158.5" y="375.33" width="96.41" height="2.63" fill="#a0f8a0"/>
<rect x="158.5" y="377.96" width="96.78" height="2.63" fill="#000090"/>
<rect x="158.5" y="380.59" width="93.59" height="2.63" fill="#a0a0ff"/>
<rect x="158.5" y="389.81" width="99.22" height="2.63" fill="#900000"/>
<rect x="158.5" y="392.44" width="97.91" height="2.63" fill="#ffa0a0"/>
<rect x="158.5" y="395.07" width="99.41" height="2.63" fill="#009000"/>
<rect x="158.5" y="397.70" width="97.91" height="2.63" fill="#a0f8a0"/>
<rect x="158.5" y="400.33" width="98.47" height="2.63" fill="#000090"/>
<rect x="158.5" y="402.96" width="95.47" height="2.63" fill="#a0a0ff"/>
<rect x="158.5" y="412.18" width="100.16" height="2.63" fill="#900000"/>
<rect x="158.5" y="414.81" width="98.85" height="2.63" fill="#ffa0a0"/>
<rect x="158.5" y="417.44" width="99.97" height="2.63" fill="#009000"/>
<rect x="158.5" y="420.07" width="99.04" height="2.63" fill="#a0f8a0"/>
<rect x="158.5" y="422.70" width="99.60" height="2.63" fill="#000090"/>
<rect x="158.5" y="425.33" width="96.41" height="2.63" fill="#a0a0ff"/>
<rect x="158.5" y="434.55" width="100.54" height="2.63" fill="#900000"/>
<rect x="158.5" y="437.18" width="99.60" height="2.63" fill="#ffa0a0"/>
<rect x="158.5" y="439.81" width="100.91" height="2.63" fill="#009000"/>
<rect x="158.5" y="442.44" width="99.79" height="2.63" fill="#a0f8a0"/>
<rect x="158.5" y="445.07" width="99.41" height="2.63" fill="#000090"/>
<rect x="158.5" y="447.70" width="97.35" height="2.63" fill="#a0a0ff"/>
<rect x="158.5" y="456.92" width="100.73" height="2.63" fill="#900000"/>
<rect x="158.5" y="459.55" width="100.16" height="2.63" fill="#ffa0a0"/>
<rect x="158.5" y="462.18" width="101.10" height="2.63" fill="#009000"/>
<rect x="158.5" y="464.81" width="100.16" height="2.63" fill="#a0f8a0"/>
<rect x="158.5" y="467.44" width="99.97" height="2.63" fill="#000090"/>
<rect x="158.5" y="470.07" width="97.91" height="2.63" fill="#a0a0ff"/>
<rect x="158.5" y="479.29" width="101.10" height="2.63" fill="#900000"/>
<rect x="158.5" y="481.92" width="100.73" height="2.63" fill="#ffa0a0"/>
<rect x="158.5" y="484.55" width="101.85" height="2.63" fill="#009000"/>
<rect x="158.5" y="487.18" width="100.73" height="2.63" fill="#a0f8a0"/>
<rect x="158.5" y="489.81" width="100.91" height="2.63" fill="#000090"/>
<rect x="158.5" y="492.44" width="98.47" height="2.63" fill="#a0a0ff"/>
<rect x="158.5" y="501.66" width="102.23" height="2.63" fill="#900000"/>
<rect x="158.5" y="504.29" width="100.35" height="2.63" fill="#ffa0a0"/>
<rect x="158.5" y="506.92" width="101.66" height="2.63" fill="#009000"/>
<rect x="158.5" y="509.55" width="100.35" height="2.63" fill="#a0f8a0"/>
<rect x="158.5" y="512.18" width="100.35" height="2.63" fill="#000090"/>
<rect x="158.5" y="514.81" width="98.47" height="2.63" fill="#a0a0ff"/>
<rect x="158.5" y="524.03" width="102.23" height="2.63" fill="#900000"/>
<rect x="158.5" y="526.66" width="102.23" height="2.63" fill="#ffa0a0"/>
<rect x="158.5" y="529.29" width="101.85" height="2.63" fill="#009000"/>
<rect x="158.5" y="531.92" width="101.85" height="2.63" fill="#a0f8a0"/>
<rect x="158.5" y="534.55" width="101.29" height="2.63" fill="#000090"/>
<rect x="158.5" y="537.18" width="101.10" height="2.63" fill="#a0a0ff"/>
<line x1="183.4" y1="95.5" x2="183.4" y2="540.7" stroke="#606060" stroke-width="1" opacity="0.25"/>
<line x1="208.4" y1="95.5" x2="208.4" y2="540.7" stroke="#606060" stroke-width="1" opacity="0.25"/>
<line x1="233.4" y1="95.5" x2="233.4" y2="540.7" stroke="#606060" stroke-width="1" opacity="0.25"/>
<line x1="258.5" y1="95.5" x2="258.5" y2="540.7" stroke="#606060" stroke-width="1" opacity="0.25"/>
<line x1="250.3" y1="95.5" x2="250.3" y2="540.7" stroke="#ff2020" stroke-width="1" opacity="0.3"/>
<line x1="158.5" y1="95.5" x2="158.5" y2="540.7" stroke="#555555" stroke-width="1"/>
<line x1="158.0" y1="95.5" x2="345" y2="95.5" stroke="#555555" stroke-width="1"/>
<line x1="283.8" y1="95.5" x2="283.8" y2="99.0" stroke="#555555" stroke-width="1"/>
<line x1="378.8" y1="96.5" x2="378.8" y2="542" stroke="#a8a8a8" stroke-width="1"/>
<line x1="403.6" y1="96.5" x2="403.6" y2="542" stroke="#a8a8a8" stroke-width="1"/>
<line x1="428.7" y1="96.5" x2="428.7" y2="542" stroke="#a8a8a8" stroke-width="1"/>
<line x1="453.7" y1="96.5" x2="453.7" y2="542" stroke="#a8a8a8" stroke-width="1"/>
<line x1="391" y1="96.5" x2="391" y2="542" stroke="#ff5050" stroke-width="1"/>
<rect x="459.91" y="99.80" width="18.59" height="2.63" fill="#900000"/>
<rect x="468.17" y="102.43" width="10.33" height="2.63" fill="#ffa0a0"/>
<rect x="460.47" y="105.06" width="18.03" height="2.63" fill="#009000"/>
<rect x="468.54" y="107.69" width="9.96" height="2.63" fill="#a0f8a0"/>
<rect x="458.97" y="110.32" width="19.53" height="2.63" fill="#000090"/>
<rect x="468.54" y="112.95" width="9.96" height="2.63" fill="#a0a0ff"/>
<rect x="443.00" y="122.18" width="35.50" height="2.63" fill="#900000"/>
<rect x="454.84" y="124.81" width="23.66" height="2.63" fill="#ffa0a0"/>
<rect x="442.63" y="127.44" width="35.87" height="2.63" fill="#009000"/>
<rect x="454.84" y="130.07" width="23.66" height="2.63" fill="#a0f8a0"/>
<rect x="446.38" y="132.70" width="32.12" height="2.63" fill="#000090"/>
<rect x="456.15" y="135.33" width="22.35" height="2.63" fill="#a0a0ff"/>
<rect x="430.05" y="144.56" width="48.45" height="2.63" fill="#900000"/>
<rect x="438.50" y="147.19" width="40.00" height="2.63" fill="#ffa0a0"/>
<rect x="430.99" y="149.82" width="47.51" height="2.63" fill="#009000"/>
<rect x="438.87" y="152.45" width="39.63" height="2.63" fill="#a0f8a0"/>
<rect x="429.86" y="155.08" width="48.64" height="2.63" fill="#000090"/>
<rect x="441.13" y="157.71" width="37.37" height="2.63" fill="#a0a0ff"/>
<rect x="420.47" y="166.94" width="58.03" height="2.63" fill="#900000"/>
<rect x="424.79" y="169.57" width="53.71" height="2.63" fill="#ffa0a0"/>
<rect x="421.03" y="172.20" width="57.47" height="2.63" fill="#009000"/>
<rect x="424.79" y="174.83" width="53.71" height="2.63" fill="#a0f8a0"/>
<rect x="421.60" y="177.46" width="56.90" height="2.63" fill="#000090"/>
<rect x="427.98" y="180.09" width="50.52" height="2.63" fill="#a0a0ff"/>
<rect x="411.83" y="189.32" width="66.67" height="2.63" fill="#900000"/>
<rect x="414.46" y="191.95" width="64.04" height="2.63" fill="#ffa0a0"/>
<rect x="411.27" y="194.58" width="67.23" height="2.63" fill="#009000"/>
<rect x="414.46" y="197.21" width="64.04" height="2.63" fill="#a0f8a0"/>
<rect x="413.15" y="199.84" width="65.35" height="2.63" fill="#000090"/>
<rect x="417.65" y="202.47" width="60.85" height="2.63" fill="#a0a0ff"/>
<rect x="405.63" y="211.70" width="72.87" height="2.63" fill="#900000"/>
<rect x="406.95" y="214.33" width="71.55" height="2.63" fill="#ffa0a0"/>
<rect x="406.20" y="216.96" width="72.30" height="2.63" fill="#009000"/>
<rect x="406.95" y="219.59" width="71.55" height="2.63" fill="#a0f8a0"/>
<rect x="407.14" y="222.22" width="71.36" height="2.63" fill="#000090"/>
<rect x="410.70" y="224.85" width="67.80" height="2.63" fill="#a0a0ff"/>
<rect x="399.06" y="234.08" width="79.44" height="2.63" fill="#900000"/>
<rect x="400.00" y="236.71" width="78.50" height="2.63" fill="#ffa0a0"/>
<rect x="399.44" y="239.34" width="79.06" height="2.63" fill="#009000"/>
<rect x="401.31" y="241.97" width="77.19" height="2.63" fill="#a0f8a0"/>
<rect x="401.69" y="244.60" width="76.81" height="2.63" fill="#000090"/>
<rect x="405.07" y="247.23" width="73.43" height="2.63" fill="#a0a0ff"/>
<rect x="394.37" y="256.46" width="84.13" height="2.63" fill="#900000"/>
<rect x="396.62" y="259.09" width="81.88" height="2.63" fill="#ffa0a0"/>
<rect x="394.55" y="261.72" width="83.95" height="2.63" fill="#009000"/>
<rect x="396.24" y="264.35" width="82.26" height="2.63" fill="#a0f8a0"/>
<rect x="399.25" y="266.98" width="79.25" height="2.63" fill="#000090"/>
<rect x="401.69" y="269.61" width="76.81" height="2.63" fill="#a0a0ff"/>
<rect x="390.99" y="278.84" width="87.51" height="2.63" fill="#900000"/>
<rect x="392.86" y="281.47" width="85.64" height="2.63" fill="#ffa0a0"/>
<rect x="391.36" y="284.10" width="87.14" height="2.63" fill="#009000"/>
<rect x="393.43" y="286.73" width="85.07" height="2.63" fill="#a0f8a0"/>
<rect x="395.31" y="289.36" width="83.19" height="2.63" fill="#000090"/>
<rect x="398.50" y="291.99" width="80.00" height="2.63" fill="#a0a0ff"/>
<rect x="389.11" y="301.22" width="89.39" height="2.63" fill="#900000"/>
<rect x="390.05" y="303.85" width="88.45" height="2.63" fill="#ffa0a0"/>
<rect x="388.73" y="306.48" width="89.77" height="2.63" fill="#009000"/>
<rect x="390.42" y="309.11" width="88.08" height="2.63" fill="#a0f8a0"/>
<rect x="391.92" y="311.74" width="86.58" height="2.63" fill="#000090"/>
<rect x="395.68" y="314.37" width="82.82" height="2.63" fill="#a0a0ff"/>
<rect x="386.67" y="323.60" width="91.83" height="2.63" fill="#900000"/>
<rect x="388.17" y="326.23" width="90.33" height="2.63" fill="#ffa0a0"/>
<rect x="386.85" y="328.86" width="91.65" height="2.63" fill="#009000"/>
<rect x="388.54" y="331.49" width="89.96" height="2.63" fill="#a0f8a0"/>
<rect x="389.48" y="334.12" width="89.02" height="2.63" fill="#000090"/>
<rect x="393.43" y="336.75" width="85.07" height="2.63" fill="#a0a0ff"/>
<rect x="384.98" y="345.98" width="93.52" height="2.63" fill="#900000"/>
<rect x="386.29" y="348.61" width="92.21" height="2.63" fill="#ffa0a0"/>
<rect x="385.35" y="351.24" width="93.15" height="2.63" fill="#009000"/>
<rect x="386.67" y="353.87" width="91.83" height="2.63" fill="#a0f8a0"/>
<rect x="388.17" y="356.50" width="90.33" height="2.63" fill="#000090"/>
<rect x="390.99" y="359.13" width="87.51" height="2.63" fill="#a0a0ff"/>
<rect x="383.85" y="368.36" width="94.65" height="2.63" fill="#900000"/>
<rect x="384.41" y="370.99" width="94.09" height="2.63" fill="#ffa0a0"/>
<rect x="384.04" y="373.62" width="94.46" height="2.63" fill="#009000"/>
<rect x="384.79" y="376.25" width="93.71" height="2.63" fill="#a0f8a0"/>
<rect x="386.85" y="378.88" width="91.65" height="2.63" fill="#000090"/>
<rect x="389.11" y="381.51" width="89.39" height="2.63" fill="#a0a0ff"/>
<rect x="383.29" y="390.74" width="95.21" height="2.63" fill="#900000"/>
<rect x="384.04" y="393.37" width="94.46" height="2.63" fill="#ffa0a0"/>
<rect x="382.91" y="396.00" width="95.59" height="2.63" fill="#009000"/>
<rect x="384.04" y="398.63" width="94.46" height="2.63" fill="#a0f8a0"/>
<rect x="385.92" y="401.26" width="92.58" height="2.63" fill="#000090"/>
<rect x="388.54" y="403.89" width="89.96" height="2.63" fill="#a0a0ff"/>
<rect x="382.72" y="413.12" width="95.78" height="2.63" fill="#900000"/>
<rect x="383.29" y="415.75" width="95.21" height="2.63" fill="#ffa0a0"/>
<rect x="382.54" y="418.38" width="95.96" height="2.63" fill="#009000"/>
<rect x="383.47" y="421.01" width="95.03" height="2.63" fill="#a0f8a0"/>
<rect x="384.98" y="423.64" width="93.52" height="2.63" fill="#000090"/>
<rect x="387.23" y="426.27" width="91.27" height="2.63" fill="#a0a0ff"/>
<rect x="381.97" y="435.50" width="96.53" height="2.63" fill="#900000"/>
<rect x="382.91" y="438.13" width="95.59" height="2.63" fill="#ffa0a0"/>
<rect x="381.78" y="440.76" width="96.72" height="2.63" fill="#009000"/>
<rect x="382.91" y="443.39" width="95.59" height="2.63" fill="#a0f8a0"/>
<rect x="384.04" y="446.02" width="94.46" height="2.63" fill="#000090"/>
<rect x="386.29" y="448.65" width="92.21" height="2.63" fill="#a0a0ff"/>
<rect x="381.22" y="457.88" width="97.28" height="2.63" fill="#900000"/>
<rect x="381.97" y="460.51" width="96.53" height="2.63" fill="#ffa0a0"/>
<rect x="380.85" y="463.14" width="97.65" height="2.63" fill="#009000"/>
<rect x="382.16" y="465.77" width="96.34" height="2.63" fill="#a0f8a0"/>
<rect x="383.85" y="468.40" width="94.65" height="2.63" fill="#000090"/>
<rect x="385.73" y="471.03" width="92.77" height="2.63" fill="#a0a0ff"/>
<rect x="380.85" y="480.26" width="97.65" height="2.63" fill="#900000"/>
<rect x="381.60" y="482.89" width="96.90" height="2.63" fill="#ffa0a0"/>
<rect x="380.28" y="485.52" width="98.22" height="2.63" fill="#009000"/>
<rect x="381.97" y="488.15" width="96.53" height="2.63" fill="#a0f8a0"/>
<rect x="382.72" y="490.78" width="95.78" height="2.63" fill="#000090"/>
<rect x="384.98" y="493.41" width="93.52" height="2.63" fill="#a0a0ff"/>
<rect x="380.09" y="502.64" width="98.41" height="2.63" fill="#900000"/>
<rect x="382.54" y="505.27" width="95.96" height="2.63" fill="#ffa0a0"/>
<rect x="380.28" y="507.90" width="98.22" height="2.63" fill="#009000"/>
<rect x="381.97" y="510.53" width="96.53" height="2.63" fill="#a0f8a0"/>
<rect x="382.16" y="513.16" width="96.34" height="2.63" fill="#000090"/>
<rect x="384.04" y="515.79" width="94.46" height="2.63" fill="#a0a0ff"/>
<rect x="381.22" y="525.02" width="97.28" height="2.63" fill="#900000"/>
<rect x="381.22" y="527.65" width="97.28" height="2.63" fill="#ffa0a0"/>
<rect x="380.85" y="530.28" width="97.65" height="2.63" fill="#009000"/>
<rect x="380.85" y="532.91" width="97.65" height="2.63" fill="#a0f8a0"/>
<rect x="382.72" y="535.54" width="95.78" height="2.63" fill="#000090"/>
<rect x="382.72" y="538.17" width="95.78" height="2.63" fill="#a0a0ff"/>
<line x1="378.8" y1="96.5" x2="378.8" y2="542" stroke="#606060" stroke-width="1" opacity="0.25"/>
<line x1="403.6" y1="96.5" x2="403.6" y2="542" stroke="#606060" stroke-width="1" opacity="0.25"/>
<line x1="428.7" y1="96.5" x2="428.7" y2="542" stroke="#606060" stroke-width="1" opacity="0.25"/>
<line x1="453.7" y1="96.5" x2="453.7" y2="542" stroke="#606060" stroke-width="1" opacity="0.25"/>
<line x1="391" y1="96.5" x2="391" y2="542" stroke="#ff2020" stroke-width="1" opacity="0.3"/>
<line x1="478.5" y1="96.5" x2="478.5" y2="542" stroke="#555555" stroke-width="1"/>
<line x1="363" y1="96.5" x2="479.0" y2="96.5" stroke="#555555" stroke-width="1"/>
<text transform="translate(158.35,69.80) rotate(90)" font-size="11.6" text-anchor="start" font-family="Liberation Sans, sans-serif">0</text>
<text transform="translate(179.85,69.80) rotate(90)" font-size="11.6" text-anchor="start" font-family="Liberation Sans, sans-serif">0.2</text>
<text transform="translate(204.35,69.80) rotate(90)" font-size="11.6" text-anchor="start" font-family="Liberation Sans, sans-serif">0.4</text>
<text transform="translate(228.75,69.80) rotate(90)" font-size="11.6" text-anchor="start" font-family="Liberation Sans, sans-serif">0.6</text>
<text transform="translate(254.15,69.80) rotate(90)" font-size="11.6" text-anchor="start" font-family="Liberation Sans, sans-serif">0.8</text>
<text transform="translate(152.45,567.30) rotate(90)" font-size="11.6" text-anchor="end" font-family="Liberation Sans, sans-serif">0</text>
<text transform="translate(174.05,567.30) rotate(90)" font-size="11.6" text-anchor="end" font-family="Liberation Sans, sans-serif">0.2</text>
<text transform="translate(198.45,567.30) rotate(90)" font-size="11.6" text-anchor="end" font-family="Liberation Sans, sans-serif">0.4</text>
<text transform="translate(223.65,567.30) rotate(90)" font-size="11.6" text-anchor="end" font-family="Liberation Sans, sans-serif">0.6</text>
<text transform="translate(248.15,567.30) rotate(90)" font-size="11.6" text-anchor="end" font-family="Liberation Sans, sans-serif">0.8</text>
<text transform="translate(270.75,567.30) rotate(90)" font-size="11.6" text-anchor="end" font-family="Liberation Sans, sans-serif">1</text>
<text transform="translate(382.95,70.90) rotate(-90)" font-size="11.6" text-anchor="end" font-family="Liberation Sans, sans-serif">0.8</text>
<text transform="translate(408.55,70.90) rotate(-90)" font-size="11.6" text-anchor="end" font-family="Liberation Sans, sans-serif">0.6</text>
<text transform="translate(432.95,70.90) rotate(-90)" font-size="11.6" text-anchor="end" font-family="Liberation Sans, sans-serif">0.4</text>
<text transform="translate(458.05,70.90) rotate(-90)" font-size="11.6" text-anchor="end" font-family="Liberation Sans, sans-serif">0.2</text>
<text transform="translate(479.35,70.90) rotate(-90)" font-size="11.6" text-anchor="end" font-family="Liberation Sans, sans-serif">0</text>
<text transform="translate(365.65,567.70) rotate(-90)" font-size="11.6" text-anchor="start" font-family="Liberation Sans, sans-serif">1</text>
<text transform="translate(388.15,567.70) rotate(-90)" font-size="11.6" text-anchor="start" font-family="Liberation Sans, sans-serif">0.8</text>
<text transform="translate(413.75,567.70) rotate(-90)" font-size="11.6" text-anchor="start" font-family="Liberation Sans, sans-serif">0.6</text>
<text transform="translate(438.55,567.70) rotate(-90)" font-size="11.6" text-anchor="start" font-family="Liberation Sans, sans-serif">0.4</text>
<text transform="translate(463.25,567.70) rotate(-90)" font-size="11.6" text-anchor="start" font-family="Liberation Sans, sans-serif">0.2</text>
<text transform="translate(485.15,567.70) rotate(-90)" font-size="11.6" text-anchor="start" font-family="Liberation Sans, sans-serif">0</text>
<text transform="translate(294.40,86.00) rotate(-90)" font-size="14" text-anchor="start" font-family="Liberation Sans, sans-serif"># receptors</text>
<text transform="translate(315.40,86.00) rotate(-90)" font-size="14" text-anchor="start" font-family="Liberation Sans, sans-serif"># choices</text>
<text transform="translate(336.40,86.00) rotate(-90)" font-size="14" text-anchor="start" font-family="Liberation Sans, sans-serif"># in &quot;top 50&quot;</text>
<text x="271.0" y="111.80" font-size="13.6" font-family="Liberation Sans, sans-serif">1, 20, 20</text>
<text x="271.0" y="134.17" font-size="13.6" font-family="Liberation Sans, sans-serif">2, 190, 50</text>
<text x="271.0" y="156.54" font-size="13.6" font-family="Liberation Sans, sans-serif">3, 1140, 50</text>
<text x="271.0" y="178.91" font-size="13.6" font-family="Liberation Sans, sans-serif">4, 4845, 50</text>
<text x="271.0" y="201.28" font-size="13.6" font-family="Liberation Sans, sans-serif">5, 15504, 50</text>
<text x="271.0" y="223.65" font-size="13.6" font-family="Liberation Sans, sans-serif">6, 38760, 50</text>
<text x="271.0" y="246.02" font-size="13.6" font-family="Liberation Sans, sans-serif">7, 77520, 50</text>
<text x="271.0" y="268.39" font-size="13.6" font-family="Liberation Sans, sans-serif">8, 125970, 50</text>
<text x="271.0" y="290.76" font-size="13.6" font-family="Liberation Sans, sans-serif">9, 167960, 50</text>
<text x="271.0" y="313.13" font-size="13.6" font-family="Liberation Sans, sans-serif">10, 184756, 50</text>
<text x="271.0" y="335.50" font-size="13.6" font-family="Liberation Sans, sans-serif">11, 167960, 50</text>
<text x="271.0" y="357.87" font-size="13.6" font-family="Liberation Sans, sans-serif">12, 125970, 50</text>
<text x="271.0" y="380.24" font-size="13.6" font-family="Liberation Sans, sans-serif">13, 77520, 50</text>
<text x="271.0" y="402.61" font-size="13.6" font-family="Liberation Sans, sans-serif">14, 38760, 50</text>
<text x="271.0" y="424.98" font-size="13.6" font-family="Liberation Sans, sans-serif">15, 15504, 50</text>
<text x="271.0" y="447.35" font-size="13.6" font-family="Liberation Sans, sans-serif">16, 4845, 50</text>
<text x="271.0" y="469.72" font-size="13.6" font-family="Liberation Sans, sans-serif">17, 1140, 50</text>
<text x="271.0" y="492.09" font-size="13.6" font-family="Liberation Sans, sans-serif">18, 190, 50</text>
<text x="271.0" y="514.46" font-size="13.6" font-family="Liberation Sans, sans-serif">19, 20, 20</text>
<text x="271.0" y="536.83" font-size="13.6" font-family="Liberation Sans, sans-serif">20, 1, 1</text>
</svg></body></html>
